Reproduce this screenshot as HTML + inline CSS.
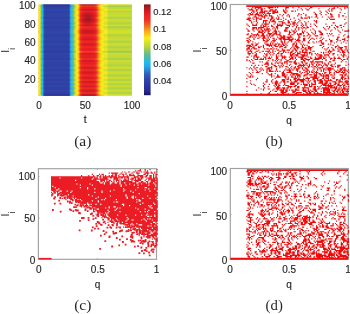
<!DOCTYPE html><html><head><meta charset="utf-8"><style>html,body{margin:0;padding:0;background:#fff;width:350px;height:314px;overflow:hidden}svg{display:block}</style></head><body><svg width="350" height="314" viewBox="0 0 350 314"><defs><filter id="sb" x="-2%" y="-2%" width="104%" height="104%"><feGaussianBlur stdDeviation="0.35"/></filter><filter id="jet" x="0" y="0" width="1" height="1" color-interpolation-filters="sRGB"><feComponentTransfer><feFuncR type="table" tableValues="0.0980 0.1164 0.1348 0.1532 0.1609 0.1661 0.1712 0.1763 0.1801 0.1840 0.1878 0.1916 0.1955 0.1909 0.1848 0.1787 0.1765 0.1765 0.1721 0.1659 0.1598 0.1489 0.1336 0.1183 0.1667 0.2177 0.2688 0.3192 0.3652 0.4112 0.4657 0.5270 0.5882 0.6495 0.7108 0.7619 0.8002 0.8385 0.8809 0.9238 0.9667 0.9908 0.9980 0.9929 0.9877 0.9826 0.9735 0.9613 0.9490 0.9396 0.9352 0.9308 0.9265 0.9221 0.9216 0.9216 0.9216 0.9196 0.8698 0.8200 0.7702 0.7204 0.6706 0.5915 0.5098"/><feFuncG type="table" tableValues="0.0784 0.1091 0.1397 0.1703 0.1846 0.1949 0.2051 0.2153 0.2304 0.2457 0.2610 0.2763 0.2917 0.3199 0.3505 0.3811 0.4314 0.4926 0.5451 0.5941 0.6431 0.6826 0.7132 0.7439 0.7402 0.7351 0.7300 0.7264 0.7341 0.7417 0.7565 0.7770 0.7974 0.8178 0.8346 0.8499 0.8652 0.8805 0.8985 0.9169 0.9353 0.8891 0.8227 0.7717 0.7206 0.6695 0.6093 0.5419 0.4745 0.4125 0.3599 0.3074 0.2549 0.2024 0.1781 0.1577 0.1373 0.1175 0.1137 0.1098 0.1060 0.1022 0.0983 0.0886 0.0784"/><feFuncB type="table" tableValues="0.3725 0.4277 0.4828 0.5380 0.5654 0.5858 0.6062 0.6266 0.6348 0.6425 0.6501 0.6578 0.6654 0.6873 0.7118 0.7363 0.7712 0.8121 0.8412 0.8657 0.8902 0.9059 0.9136 0.9213 0.8578 0.7915 0.7251 0.6593 0.5980 0.5368 0.4755 0.4142 0.3529 0.2917 0.2525 0.2218 0.1912 0.1605 0.1461 0.1338 0.1216 0.0968 0.0805 0.0856 0.0907 0.0958 0.1049 0.1172 0.1294 0.1373 0.1373 0.1373 0.1373 0.1373 0.1373 0.1373 0.1373 0.1373 0.1373 0.1373 0.1373 0.1373 0.1373 0.1185 0.0980"/><feFuncA type="identity"/></feComponentTransfer></filter><linearGradient id="h0" x1="0" y1="0" x2="1" y2="0"><stop offset="0.005" stop-color="rgb(179,179,179)"/><stop offset="0.015" stop-color="rgb(163,163,163)"/><stop offset="0.025" stop-color="rgb(138,138,138)"/><stop offset="0.035" stop-color="rgb(112,112,112)"/><stop offset="0.045" stop-color="rgb(94,94,94)"/><stop offset="0.055" stop-color="rgb(36,36,36)"/><stop offset="0.065" stop-color="rgb(12,12,12)"/><stop offset="0.075" stop-color="rgb(8,8,8)"/><stop offset="0.085" stop-color="rgb(8,8,8)"/><stop offset="0.095" stop-color="rgb(8,8,8)"/><stop offset="0.105" stop-color="rgb(8,8,8)"/><stop offset="0.115" stop-color="rgb(8,8,8)"/><stop offset="0.125" stop-color="rgb(8,8,8)"/><stop offset="0.135" stop-color="rgb(8,8,8)"/><stop offset="0.145" stop-color="rgb(8,8,8)"/><stop offset="0.155" stop-color="rgb(8,8,8)"/><stop offset="0.165" stop-color="rgb(8,8,8)"/><stop offset="0.175" stop-color="rgb(8,8,8)"/><stop offset="0.185" stop-color="rgb(8,8,8)"/><stop offset="0.195" stop-color="rgb(8,8,8)"/><stop offset="0.205" stop-color="rgb(8,8,8)"/><stop offset="0.215" stop-color="rgb(8,8,8)"/><stop offset="0.225" stop-color="rgb(8,8,8)"/><stop offset="0.235" stop-color="rgb(8,8,8)"/><stop offset="0.245" stop-color="rgb(8,8,8)"/><stop offset="0.255" stop-color="rgb(8,8,8)"/><stop offset="0.265" stop-color="rgb(8,8,8)"/><stop offset="0.275" stop-color="rgb(8,8,8)"/><stop offset="0.285" stop-color="rgb(8,8,8)"/><stop offset="0.295" stop-color="rgb(8,8,8)"/><stop offset="0.305" stop-color="rgb(8,8,8)"/><stop offset="0.315" stop-color="rgb(8,8,8)"/><stop offset="0.325" stop-color="rgb(8,8,8)"/><stop offset="0.335" stop-color="rgb(43,43,43)"/><stop offset="0.345" stop-color="rgb(94,94,94)"/><stop offset="0.355" stop-color="rgb(105,105,105)"/><stop offset="0.365" stop-color="rgb(117,117,117)"/><stop offset="0.375" stop-color="rgb(130,130,130)"/><stop offset="0.385" stop-color="rgb(143,143,143)"/><stop offset="0.395" stop-color="rgb(156,156,156)"/><stop offset="0.405" stop-color="rgb(168,168,168)"/><stop offset="0.415" stop-color="rgb(173,173,173)"/><stop offset="0.425" stop-color="rgb(181,181,181)"/><stop offset="0.435" stop-color="rgb(196,196,196)"/><stop offset="0.445" stop-color="rgb(214,214,214)"/><stop offset="0.455" stop-color="rgb(246,246,246)"/><stop offset="0.465" stop-color="rgb(253,253,253)"/><stop offset="0.475" stop-color="rgb(255,255,255)"/><stop offset="0.485" stop-color="rgb(255,255,255)"/><stop offset="0.495" stop-color="rgb(255,255,255)"/><stop offset="0.505" stop-color="rgb(255,255,255)"/><stop offset="0.515" stop-color="rgb(255,255,255)"/><stop offset="0.525" stop-color="rgb(255,255,255)"/><stop offset="0.535" stop-color="rgb(255,255,255)"/><stop offset="0.545" stop-color="rgb(255,255,255)"/><stop offset="0.555" stop-color="rgb(255,255,255)"/><stop offset="0.565" stop-color="rgb(255,255,255)"/><stop offset="0.575" stop-color="rgb(255,255,255)"/><stop offset="0.585" stop-color="rgb(255,255,255)"/><stop offset="0.595" stop-color="rgb(255,255,255)"/><stop offset="0.605" stop-color="rgb(253,253,253)"/><stop offset="0.615" stop-color="rgb(243,243,243)"/><stop offset="0.625" stop-color="rgb(214,214,214)"/><stop offset="0.635" stop-color="rgb(204,204,204)"/><stop offset="0.645" stop-color="rgb(194,194,194)"/><stop offset="0.655" stop-color="rgb(186,186,186)"/><stop offset="0.665" stop-color="rgb(179,179,179)"/><stop offset="0.675" stop-color="rgb(172,172,172)"/><stop offset="0.685" stop-color="rgb(171,171,171)"/><stop offset="0.695" stop-color="rgb(170,170,170)"/><stop offset="0.705" stop-color="rgb(163,163,163)"/><stop offset="0.715" stop-color="rgb(163,163,163)"/><stop offset="0.725" stop-color="rgb(163,163,163)"/><stop offset="0.735" stop-color="rgb(163,163,163)"/><stop offset="0.745" stop-color="rgb(150,150,150)"/><stop offset="0.755" stop-color="rgb(150,150,150)"/><stop offset="0.765" stop-color="rgb(150,150,150)"/><stop offset="0.775" stop-color="rgb(150,150,150)"/><stop offset="0.785" stop-color="rgb(150,150,150)"/><stop offset="0.795" stop-color="rgb(150,150,150)"/><stop offset="0.805" stop-color="rgb(150,150,150)"/><stop offset="0.815" stop-color="rgb(150,150,150)"/><stop offset="0.825" stop-color="rgb(150,150,150)"/><stop offset="0.835" stop-color="rgb(150,150,150)"/><stop offset="0.845" stop-color="rgb(150,150,150)"/><stop offset="0.855" stop-color="rgb(150,150,150)"/><stop offset="0.865" stop-color="rgb(150,150,150)"/><stop offset="0.875" stop-color="rgb(150,150,150)"/><stop offset="0.885" stop-color="rgb(150,150,150)"/><stop offset="0.895" stop-color="rgb(150,150,150)"/><stop offset="0.905" stop-color="rgb(150,150,150)"/><stop offset="0.915" stop-color="rgb(150,150,150)"/><stop offset="0.925" stop-color="rgb(150,150,150)"/><stop offset="0.935" stop-color="rgb(150,150,150)"/><stop offset="0.945" stop-color="rgb(150,150,150)"/><stop offset="0.955" stop-color="rgb(150,150,150)"/><stop offset="0.965" stop-color="rgb(150,150,150)"/><stop offset="0.975" stop-color="rgb(150,150,150)"/><stop offset="0.985" stop-color="rgb(150,150,150)"/><stop offset="0.995" stop-color="rgb(150,150,150)"/></linearGradient><linearGradient id="h1" x1="0" y1="0" x2="1" y2="0"><stop offset="0.005" stop-color="rgb(158,158,158)"/><stop offset="0.015" stop-color="rgb(143,143,143)"/><stop offset="0.025" stop-color="rgb(117,117,117)"/><stop offset="0.035" stop-color="rgb(92,92,92)"/><stop offset="0.045" stop-color="rgb(74,74,74)"/><stop offset="0.055" stop-color="rgb(55,55,55)"/><stop offset="0.065" stop-color="rgb(38,38,38)"/><stop offset="0.075" stop-color="rgb(35,35,35)"/><stop offset="0.085" stop-color="rgb(35,35,35)"/><stop offset="0.095" stop-color="rgb(35,35,35)"/><stop offset="0.105" stop-color="rgb(35,35,35)"/><stop offset="0.115" stop-color="rgb(35,35,35)"/><stop offset="0.125" stop-color="rgb(35,35,35)"/><stop offset="0.135" stop-color="rgb(35,35,35)"/><stop offset="0.145" stop-color="rgb(35,35,35)"/><stop offset="0.155" stop-color="rgb(35,35,35)"/><stop offset="0.165" stop-color="rgb(35,35,35)"/><stop offset="0.175" stop-color="rgb(35,35,35)"/><stop offset="0.185" stop-color="rgb(35,35,35)"/><stop offset="0.195" stop-color="rgb(35,35,35)"/><stop offset="0.205" stop-color="rgb(35,35,35)"/><stop offset="0.215" stop-color="rgb(35,35,35)"/><stop offset="0.225" stop-color="rgb(35,35,35)"/><stop offset="0.235" stop-color="rgb(35,35,35)"/><stop offset="0.245" stop-color="rgb(35,35,35)"/><stop offset="0.255" stop-color="rgb(35,35,35)"/><stop offset="0.265" stop-color="rgb(35,35,35)"/><stop offset="0.275" stop-color="rgb(35,35,35)"/><stop offset="0.285" stop-color="rgb(35,35,35)"/><stop offset="0.295" stop-color="rgb(35,35,35)"/><stop offset="0.305" stop-color="rgb(35,35,35)"/><stop offset="0.315" stop-color="rgb(35,35,35)"/><stop offset="0.325" stop-color="rgb(35,35,35)"/><stop offset="0.335" stop-color="rgb(61,61,61)"/><stop offset="0.345" stop-color="rgb(74,74,74)"/><stop offset="0.355" stop-color="rgb(84,84,84)"/><stop offset="0.365" stop-color="rgb(97,97,97)"/><stop offset="0.375" stop-color="rgb(110,110,110)"/><stop offset="0.385" stop-color="rgb(122,122,122)"/><stop offset="0.395" stop-color="rgb(135,135,135)"/><stop offset="0.405" stop-color="rgb(148,148,148)"/><stop offset="0.415" stop-color="rgb(153,153,153)"/><stop offset="0.425" stop-color="rgb(161,161,161)"/><stop offset="0.435" stop-color="rgb(176,176,176)"/><stop offset="0.445" stop-color="rgb(194,194,194)"/><stop offset="0.455" stop-color="rgb(200,200,200)"/><stop offset="0.465" stop-color="rgb(205,205,205)"/><stop offset="0.475" stop-color="rgb(208,208,208)"/><stop offset="0.485" stop-color="rgb(210,210,210)"/><stop offset="0.495" stop-color="rgb(212,212,212)"/><stop offset="0.505" stop-color="rgb(212,212,212)"/><stop offset="0.515" stop-color="rgb(212,212,212)"/><stop offset="0.525" stop-color="rgb(212,212,212)"/><stop offset="0.535" stop-color="rgb(212,212,212)"/><stop offset="0.545" stop-color="rgb(212,212,212)"/><stop offset="0.555" stop-color="rgb(212,212,212)"/><stop offset="0.565" stop-color="rgb(212,212,212)"/><stop offset="0.575" stop-color="rgb(210,210,210)"/><stop offset="0.585" stop-color="rgb(209,209,209)"/><stop offset="0.595" stop-color="rgb(208,208,208)"/><stop offset="0.605" stop-color="rgb(205,205,205)"/><stop offset="0.615" stop-color="rgb(198,198,198)"/><stop offset="0.625" stop-color="rgb(194,194,194)"/><stop offset="0.635" stop-color="rgb(184,184,184)"/><stop offset="0.645" stop-color="rgb(173,173,173)"/><stop offset="0.655" stop-color="rgb(166,166,166)"/><stop offset="0.665" stop-color="rgb(158,158,158)"/><stop offset="0.675" stop-color="rgb(152,152,152)"/><stop offset="0.685" stop-color="rgb(150,150,150)"/><stop offset="0.695" stop-color="rgb(149,149,149)"/><stop offset="0.705" stop-color="rgb(143,143,143)"/><stop offset="0.715" stop-color="rgb(143,143,143)"/><stop offset="0.725" stop-color="rgb(143,143,143)"/><stop offset="0.735" stop-color="rgb(143,143,143)"/><stop offset="0.745" stop-color="rgb(130,130,130)"/><stop offset="0.755" stop-color="rgb(130,130,130)"/><stop offset="0.765" stop-color="rgb(130,130,130)"/><stop offset="0.775" stop-color="rgb(130,130,130)"/><stop offset="0.785" stop-color="rgb(130,130,130)"/><stop offset="0.795" stop-color="rgb(130,130,130)"/><stop offset="0.805" stop-color="rgb(130,130,130)"/><stop offset="0.815" stop-color="rgb(130,130,130)"/><stop offset="0.825" stop-color="rgb(130,130,130)"/><stop offset="0.835" stop-color="rgb(130,130,130)"/><stop offset="0.845" stop-color="rgb(130,130,130)"/><stop offset="0.855" stop-color="rgb(130,130,130)"/><stop offset="0.865" stop-color="rgb(130,130,130)"/><stop offset="0.875" stop-color="rgb(130,130,130)"/><stop offset="0.885" stop-color="rgb(130,130,130)"/><stop offset="0.895" stop-color="rgb(130,130,130)"/><stop offset="0.905" stop-color="rgb(130,130,130)"/><stop offset="0.915" stop-color="rgb(130,130,130)"/><stop offset="0.925" stop-color="rgb(130,130,130)"/><stop offset="0.935" stop-color="rgb(130,130,130)"/><stop offset="0.945" stop-color="rgb(130,130,130)"/><stop offset="0.955" stop-color="rgb(130,130,130)"/><stop offset="0.965" stop-color="rgb(130,130,130)"/><stop offset="0.975" stop-color="rgb(130,130,130)"/><stop offset="0.985" stop-color="rgb(130,130,130)"/><stop offset="0.995" stop-color="rgb(130,130,130)"/></linearGradient><linearGradient id="h2" x1="0" y1="0" x2="1" y2="0"><stop offset="0.005" stop-color="rgb(168,168,168)"/><stop offset="0.015" stop-color="rgb(153,153,153)"/><stop offset="0.025" stop-color="rgb(128,128,128)"/><stop offset="0.035" stop-color="rgb(102,102,102)"/><stop offset="0.045" stop-color="rgb(84,84,84)"/><stop offset="0.055" stop-color="rgb(61,61,61)"/><stop offset="0.065" stop-color="rgb(43,43,43)"/><stop offset="0.075" stop-color="rgb(40,40,40)"/><stop offset="0.085" stop-color="rgb(40,40,40)"/><stop offset="0.095" stop-color="rgb(40,40,40)"/><stop offset="0.105" stop-color="rgb(40,40,40)"/><stop offset="0.115" stop-color="rgb(40,40,40)"/><stop offset="0.125" stop-color="rgb(40,40,40)"/><stop offset="0.135" stop-color="rgb(40,40,40)"/><stop offset="0.145" stop-color="rgb(40,40,40)"/><stop offset="0.155" stop-color="rgb(40,40,40)"/><stop offset="0.165" stop-color="rgb(40,40,40)"/><stop offset="0.175" stop-color="rgb(40,40,40)"/><stop offset="0.185" stop-color="rgb(40,40,40)"/><stop offset="0.195" stop-color="rgb(40,40,40)"/><stop offset="0.205" stop-color="rgb(40,40,40)"/><stop offset="0.215" stop-color="rgb(40,40,40)"/><stop offset="0.225" stop-color="rgb(40,40,40)"/><stop offset="0.235" stop-color="rgb(40,40,40)"/><stop offset="0.245" stop-color="rgb(40,40,40)"/><stop offset="0.255" stop-color="rgb(40,40,40)"/><stop offset="0.265" stop-color="rgb(40,40,40)"/><stop offset="0.275" stop-color="rgb(40,40,40)"/><stop offset="0.285" stop-color="rgb(40,40,40)"/><stop offset="0.295" stop-color="rgb(40,40,40)"/><stop offset="0.305" stop-color="rgb(40,40,40)"/><stop offset="0.315" stop-color="rgb(40,40,40)"/><stop offset="0.325" stop-color="rgb(40,40,40)"/><stop offset="0.335" stop-color="rgb(66,66,66)"/><stop offset="0.345" stop-color="rgb(84,84,84)"/><stop offset="0.355" stop-color="rgb(94,94,94)"/><stop offset="0.365" stop-color="rgb(107,107,107)"/><stop offset="0.375" stop-color="rgb(120,120,120)"/><stop offset="0.385" stop-color="rgb(133,133,133)"/><stop offset="0.395" stop-color="rgb(145,145,145)"/><stop offset="0.405" stop-color="rgb(158,158,158)"/><stop offset="0.415" stop-color="rgb(163,163,163)"/><stop offset="0.425" stop-color="rgb(171,171,171)"/><stop offset="0.435" stop-color="rgb(186,186,186)"/><stop offset="0.445" stop-color="rgb(204,204,204)"/><stop offset="0.455" stop-color="rgb(217,217,217)"/><stop offset="0.465" stop-color="rgb(222,222,222)"/><stop offset="0.475" stop-color="rgb(224,224,224)"/><stop offset="0.485" stop-color="rgb(227,227,227)"/><stop offset="0.495" stop-color="rgb(228,228,228)"/><stop offset="0.505" stop-color="rgb(228,228,228)"/><stop offset="0.515" stop-color="rgb(228,228,228)"/><stop offset="0.525" stop-color="rgb(228,228,228)"/><stop offset="0.535" stop-color="rgb(228,228,228)"/><stop offset="0.545" stop-color="rgb(228,228,228)"/><stop offset="0.555" stop-color="rgb(228,228,228)"/><stop offset="0.565" stop-color="rgb(228,228,228)"/><stop offset="0.575" stop-color="rgb(227,227,227)"/><stop offset="0.585" stop-color="rgb(226,226,226)"/><stop offset="0.595" stop-color="rgb(224,224,224)"/><stop offset="0.605" stop-color="rgb(222,222,222)"/><stop offset="0.615" stop-color="rgb(214,214,214)"/><stop offset="0.625" stop-color="rgb(204,204,204)"/><stop offset="0.635" stop-color="rgb(194,194,194)"/><stop offset="0.645" stop-color="rgb(184,184,184)"/><stop offset="0.655" stop-color="rgb(176,176,176)"/><stop offset="0.665" stop-color="rgb(168,168,168)"/><stop offset="0.675" stop-color="rgb(162,162,162)"/><stop offset="0.685" stop-color="rgb(161,161,161)"/><stop offset="0.695" stop-color="rgb(159,159,159)"/><stop offset="0.705" stop-color="rgb(153,153,153)"/><stop offset="0.715" stop-color="rgb(153,153,153)"/><stop offset="0.725" stop-color="rgb(153,153,153)"/><stop offset="0.735" stop-color="rgb(153,153,153)"/><stop offset="0.745" stop-color="rgb(140,140,140)"/><stop offset="0.755" stop-color="rgb(140,140,140)"/><stop offset="0.765" stop-color="rgb(140,140,140)"/><stop offset="0.775" stop-color="rgb(140,140,140)"/><stop offset="0.785" stop-color="rgb(140,140,140)"/><stop offset="0.795" stop-color="rgb(140,140,140)"/><stop offset="0.805" stop-color="rgb(140,140,140)"/><stop offset="0.815" stop-color="rgb(140,140,140)"/><stop offset="0.825" stop-color="rgb(140,140,140)"/><stop offset="0.835" stop-color="rgb(140,140,140)"/><stop offset="0.845" stop-color="rgb(140,140,140)"/><stop offset="0.855" stop-color="rgb(140,140,140)"/><stop offset="0.865" stop-color="rgb(140,140,140)"/><stop offset="0.875" stop-color="rgb(140,140,140)"/><stop offset="0.885" stop-color="rgb(140,140,140)"/><stop offset="0.895" stop-color="rgb(140,140,140)"/><stop offset="0.905" stop-color="rgb(140,140,140)"/><stop offset="0.915" stop-color="rgb(140,140,140)"/><stop offset="0.925" stop-color="rgb(140,140,140)"/><stop offset="0.935" stop-color="rgb(140,140,140)"/><stop offset="0.945" stop-color="rgb(140,140,140)"/><stop offset="0.955" stop-color="rgb(140,140,140)"/><stop offset="0.965" stop-color="rgb(140,140,140)"/><stop offset="0.975" stop-color="rgb(140,140,140)"/><stop offset="0.985" stop-color="rgb(140,140,140)"/><stop offset="0.995" stop-color="rgb(140,140,140)"/></linearGradient><linearGradient id="h3" x1="0" y1="0" x2="1" y2="0"><stop offset="0.005" stop-color="rgb(174,174,174)"/><stop offset="0.015" stop-color="rgb(159,159,159)"/><stop offset="0.025" stop-color="rgb(134,134,134)"/><stop offset="0.035" stop-color="rgb(108,108,108)"/><stop offset="0.045" stop-color="rgb(90,90,90)"/><stop offset="0.055" stop-color="rgb(65,65,65)"/><stop offset="0.065" stop-color="rgb(47,47,47)"/><stop offset="0.075" stop-color="rgb(44,44,44)"/><stop offset="0.085" stop-color="rgb(44,44,44)"/><stop offset="0.095" stop-color="rgb(44,44,44)"/><stop offset="0.105" stop-color="rgb(44,44,44)"/><stop offset="0.115" stop-color="rgb(44,44,44)"/><stop offset="0.125" stop-color="rgb(44,44,44)"/><stop offset="0.135" stop-color="rgb(44,44,44)"/><stop offset="0.145" stop-color="rgb(44,44,44)"/><stop offset="0.155" stop-color="rgb(44,44,44)"/><stop offset="0.165" stop-color="rgb(44,44,44)"/><stop offset="0.175" stop-color="rgb(44,44,44)"/><stop offset="0.185" stop-color="rgb(44,44,44)"/><stop offset="0.195" stop-color="rgb(44,44,44)"/><stop offset="0.205" stop-color="rgb(44,44,44)"/><stop offset="0.215" stop-color="rgb(44,44,44)"/><stop offset="0.225" stop-color="rgb(44,44,44)"/><stop offset="0.235" stop-color="rgb(44,44,44)"/><stop offset="0.245" stop-color="rgb(44,44,44)"/><stop offset="0.255" stop-color="rgb(44,44,44)"/><stop offset="0.265" stop-color="rgb(44,44,44)"/><stop offset="0.275" stop-color="rgb(44,44,44)"/><stop offset="0.285" stop-color="rgb(44,44,44)"/><stop offset="0.295" stop-color="rgb(44,44,44)"/><stop offset="0.305" stop-color="rgb(44,44,44)"/><stop offset="0.315" stop-color="rgb(44,44,44)"/><stop offset="0.325" stop-color="rgb(44,44,44)"/><stop offset="0.335" stop-color="rgb(70,70,70)"/><stop offset="0.345" stop-color="rgb(90,90,90)"/><stop offset="0.355" stop-color="rgb(100,100,100)"/><stop offset="0.365" stop-color="rgb(113,113,113)"/><stop offset="0.375" stop-color="rgb(126,126,126)"/><stop offset="0.385" stop-color="rgb(139,139,139)"/><stop offset="0.395" stop-color="rgb(151,151,151)"/><stop offset="0.405" stop-color="rgb(164,164,164)"/><stop offset="0.415" stop-color="rgb(169,169,169)"/><stop offset="0.425" stop-color="rgb(177,177,177)"/><stop offset="0.435" stop-color="rgb(192,192,192)"/><stop offset="0.445" stop-color="rgb(210,210,210)"/><stop offset="0.455" stop-color="rgb(227,227,227)"/><stop offset="0.465" stop-color="rgb(232,232,232)"/><stop offset="0.475" stop-color="rgb(234,234,234)"/><stop offset="0.485" stop-color="rgb(237,237,237)"/><stop offset="0.495" stop-color="rgb(238,238,238)"/><stop offset="0.505" stop-color="rgb(238,238,238)"/><stop offset="0.515" stop-color="rgb(238,238,238)"/><stop offset="0.525" stop-color="rgb(238,238,238)"/><stop offset="0.535" stop-color="rgb(238,238,238)"/><stop offset="0.545" stop-color="rgb(238,238,238)"/><stop offset="0.555" stop-color="rgb(238,238,238)"/><stop offset="0.565" stop-color="rgb(238,238,238)"/><stop offset="0.575" stop-color="rgb(237,237,237)"/><stop offset="0.585" stop-color="rgb(236,236,236)"/><stop offset="0.595" stop-color="rgb(234,234,234)"/><stop offset="0.605" stop-color="rgb(232,232,232)"/><stop offset="0.615" stop-color="rgb(224,224,224)"/><stop offset="0.625" stop-color="rgb(210,210,210)"/><stop offset="0.635" stop-color="rgb(200,200,200)"/><stop offset="0.645" stop-color="rgb(190,190,190)"/><stop offset="0.655" stop-color="rgb(182,182,182)"/><stop offset="0.665" stop-color="rgb(174,174,174)"/><stop offset="0.675" stop-color="rgb(168,168,168)"/><stop offset="0.685" stop-color="rgb(167,167,167)"/><stop offset="0.695" stop-color="rgb(165,165,165)"/><stop offset="0.705" stop-color="rgb(159,159,159)"/><stop offset="0.715" stop-color="rgb(159,159,159)"/><stop offset="0.725" stop-color="rgb(159,159,159)"/><stop offset="0.735" stop-color="rgb(159,159,159)"/><stop offset="0.745" stop-color="rgb(146,146,146)"/><stop offset="0.755" stop-color="rgb(146,146,146)"/><stop offset="0.765" stop-color="rgb(146,146,146)"/><stop offset="0.775" stop-color="rgb(146,146,146)"/><stop offset="0.785" stop-color="rgb(146,146,146)"/><stop offset="0.795" stop-color="rgb(146,146,146)"/><stop offset="0.805" stop-color="rgb(146,146,146)"/><stop offset="0.815" stop-color="rgb(146,146,146)"/><stop offset="0.825" stop-color="rgb(146,146,146)"/><stop offset="0.835" stop-color="rgb(146,146,146)"/><stop offset="0.845" stop-color="rgb(146,146,146)"/><stop offset="0.855" stop-color="rgb(146,146,146)"/><stop offset="0.865" stop-color="rgb(146,146,146)"/><stop offset="0.875" stop-color="rgb(146,146,146)"/><stop offset="0.885" stop-color="rgb(146,146,146)"/><stop offset="0.895" stop-color="rgb(146,146,146)"/><stop offset="0.905" stop-color="rgb(146,146,146)"/><stop offset="0.915" stop-color="rgb(146,146,146)"/><stop offset="0.925" stop-color="rgb(146,146,146)"/><stop offset="0.935" stop-color="rgb(146,146,146)"/><stop offset="0.945" stop-color="rgb(146,146,146)"/><stop offset="0.955" stop-color="rgb(146,146,146)"/><stop offset="0.965" stop-color="rgb(146,146,146)"/><stop offset="0.975" stop-color="rgb(146,146,146)"/><stop offset="0.985" stop-color="rgb(146,146,146)"/><stop offset="0.995" stop-color="rgb(146,146,146)"/></linearGradient><linearGradient id="h4" x1="0" y1="0" x2="1" y2="0"><stop offset="0.005" stop-color="rgb(162,162,162)"/><stop offset="0.015" stop-color="rgb(147,147,147)"/><stop offset="0.025" stop-color="rgb(121,121,121)"/><stop offset="0.035" stop-color="rgb(96,96,96)"/><stop offset="0.045" stop-color="rgb(78,78,78)"/><stop offset="0.055" stop-color="rgb(58,58,58)"/><stop offset="0.065" stop-color="rgb(40,40,40)"/><stop offset="0.075" stop-color="rgb(37,37,37)"/><stop offset="0.085" stop-color="rgb(37,37,37)"/><stop offset="0.095" stop-color="rgb(37,37,37)"/><stop offset="0.105" stop-color="rgb(37,37,37)"/><stop offset="0.115" stop-color="rgb(37,37,37)"/><stop offset="0.125" stop-color="rgb(37,37,37)"/><stop offset="0.135" stop-color="rgb(37,37,37)"/><stop offset="0.145" stop-color="rgb(37,37,37)"/><stop offset="0.155" stop-color="rgb(37,37,37)"/><stop offset="0.165" stop-color="rgb(37,37,37)"/><stop offset="0.175" stop-color="rgb(37,37,37)"/><stop offset="0.185" stop-color="rgb(37,37,37)"/><stop offset="0.195" stop-color="rgb(37,37,37)"/><stop offset="0.205" stop-color="rgb(37,37,37)"/><stop offset="0.215" stop-color="rgb(37,37,37)"/><stop offset="0.225" stop-color="rgb(37,37,37)"/><stop offset="0.235" stop-color="rgb(37,37,37)"/><stop offset="0.245" stop-color="rgb(37,37,37)"/><stop offset="0.255" stop-color="rgb(37,37,37)"/><stop offset="0.265" stop-color="rgb(37,37,37)"/><stop offset="0.275" stop-color="rgb(37,37,37)"/><stop offset="0.285" stop-color="rgb(37,37,37)"/><stop offset="0.295" stop-color="rgb(37,37,37)"/><stop offset="0.305" stop-color="rgb(37,37,37)"/><stop offset="0.315" stop-color="rgb(37,37,37)"/><stop offset="0.325" stop-color="rgb(37,37,37)"/><stop offset="0.335" stop-color="rgb(63,63,63)"/><stop offset="0.345" stop-color="rgb(78,78,78)"/><stop offset="0.355" stop-color="rgb(88,88,88)"/><stop offset="0.365" stop-color="rgb(101,101,101)"/><stop offset="0.375" stop-color="rgb(114,114,114)"/><stop offset="0.385" stop-color="rgb(126,126,126)"/><stop offset="0.395" stop-color="rgb(139,139,139)"/><stop offset="0.405" stop-color="rgb(152,152,152)"/><stop offset="0.415" stop-color="rgb(157,157,157)"/><stop offset="0.425" stop-color="rgb(165,165,165)"/><stop offset="0.435" stop-color="rgb(180,180,180)"/><stop offset="0.445" stop-color="rgb(198,198,198)"/><stop offset="0.455" stop-color="rgb(207,207,207)"/><stop offset="0.465" stop-color="rgb(212,212,212)"/><stop offset="0.475" stop-color="rgb(214,214,214)"/><stop offset="0.485" stop-color="rgb(217,217,217)"/><stop offset="0.495" stop-color="rgb(218,218,218)"/><stop offset="0.505" stop-color="rgb(218,218,218)"/><stop offset="0.515" stop-color="rgb(218,218,218)"/><stop offset="0.525" stop-color="rgb(218,218,218)"/><stop offset="0.535" stop-color="rgb(218,218,218)"/><stop offset="0.545" stop-color="rgb(218,218,218)"/><stop offset="0.555" stop-color="rgb(218,218,218)"/><stop offset="0.565" stop-color="rgb(218,218,218)"/><stop offset="0.575" stop-color="rgb(217,217,217)"/><stop offset="0.585" stop-color="rgb(216,216,216)"/><stop offset="0.595" stop-color="rgb(214,214,214)"/><stop offset="0.605" stop-color="rgb(212,212,212)"/><stop offset="0.615" stop-color="rgb(204,204,204)"/><stop offset="0.625" stop-color="rgb(198,198,198)"/><stop offset="0.635" stop-color="rgb(188,188,188)"/><stop offset="0.645" stop-color="rgb(177,177,177)"/><stop offset="0.655" stop-color="rgb(170,170,170)"/><stop offset="0.665" stop-color="rgb(162,162,162)"/><stop offset="0.675" stop-color="rgb(156,156,156)"/><stop offset="0.685" stop-color="rgb(155,155,155)"/><stop offset="0.695" stop-color="rgb(153,153,153)"/><stop offset="0.705" stop-color="rgb(147,147,147)"/><stop offset="0.715" stop-color="rgb(147,147,147)"/><stop offset="0.725" stop-color="rgb(147,147,147)"/><stop offset="0.735" stop-color="rgb(147,147,147)"/><stop offset="0.745" stop-color="rgb(134,134,134)"/><stop offset="0.755" stop-color="rgb(134,134,134)"/><stop offset="0.765" stop-color="rgb(134,134,134)"/><stop offset="0.775" stop-color="rgb(134,134,134)"/><stop offset="0.785" stop-color="rgb(134,134,134)"/><stop offset="0.795" stop-color="rgb(134,134,134)"/><stop offset="0.805" stop-color="rgb(134,134,134)"/><stop offset="0.815" stop-color="rgb(134,134,134)"/><stop offset="0.825" stop-color="rgb(134,134,134)"/><stop offset="0.835" stop-color="rgb(134,134,134)"/><stop offset="0.845" stop-color="rgb(134,134,134)"/><stop offset="0.855" stop-color="rgb(134,134,134)"/><stop offset="0.865" stop-color="rgb(134,134,134)"/><stop offset="0.875" stop-color="rgb(134,134,134)"/><stop offset="0.885" stop-color="rgb(134,134,134)"/><stop offset="0.895" stop-color="rgb(134,134,134)"/><stop offset="0.905" stop-color="rgb(134,134,134)"/><stop offset="0.915" stop-color="rgb(134,134,134)"/><stop offset="0.925" stop-color="rgb(134,134,134)"/><stop offset="0.935" stop-color="rgb(134,134,134)"/><stop offset="0.945" stop-color="rgb(134,134,134)"/><stop offset="0.955" stop-color="rgb(134,134,134)"/><stop offset="0.965" stop-color="rgb(134,134,134)"/><stop offset="0.975" stop-color="rgb(134,134,134)"/><stop offset="0.985" stop-color="rgb(134,134,134)"/><stop offset="0.995" stop-color="rgb(134,134,134)"/></linearGradient><linearGradient id="h5" x1="0" y1="0" x2="1" y2="0"><stop offset="0.005" stop-color="rgb(172,172,172)"/><stop offset="0.015" stop-color="rgb(157,157,157)"/><stop offset="0.025" stop-color="rgb(132,132,132)"/><stop offset="0.035" stop-color="rgb(106,106,106)"/><stop offset="0.045" stop-color="rgb(88,88,88)"/><stop offset="0.055" stop-color="rgb(63,63,63)"/><stop offset="0.065" stop-color="rgb(46,46,46)"/><stop offset="0.075" stop-color="rgb(43,43,43)"/><stop offset="0.085" stop-color="rgb(43,43,43)"/><stop offset="0.095" stop-color="rgb(43,43,43)"/><stop offset="0.105" stop-color="rgb(43,43,43)"/><stop offset="0.115" stop-color="rgb(43,43,43)"/><stop offset="0.125" stop-color="rgb(43,43,43)"/><stop offset="0.135" stop-color="rgb(43,43,43)"/><stop offset="0.145" stop-color="rgb(43,43,43)"/><stop offset="0.155" stop-color="rgb(43,43,43)"/><stop offset="0.165" stop-color="rgb(43,43,43)"/><stop offset="0.175" stop-color="rgb(43,43,43)"/><stop offset="0.185" stop-color="rgb(43,43,43)"/><stop offset="0.195" stop-color="rgb(43,43,43)"/><stop offset="0.205" stop-color="rgb(43,43,43)"/><stop offset="0.215" stop-color="rgb(43,43,43)"/><stop offset="0.225" stop-color="rgb(43,43,43)"/><stop offset="0.235" stop-color="rgb(43,43,43)"/><stop offset="0.245" stop-color="rgb(43,43,43)"/><stop offset="0.255" stop-color="rgb(43,43,43)"/><stop offset="0.265" stop-color="rgb(43,43,43)"/><stop offset="0.275" stop-color="rgb(43,43,43)"/><stop offset="0.285" stop-color="rgb(43,43,43)"/><stop offset="0.295" stop-color="rgb(43,43,43)"/><stop offset="0.305" stop-color="rgb(43,43,43)"/><stop offset="0.315" stop-color="rgb(43,43,43)"/><stop offset="0.325" stop-color="rgb(43,43,43)"/><stop offset="0.335" stop-color="rgb(69,69,69)"/><stop offset="0.345" stop-color="rgb(88,88,88)"/><stop offset="0.355" stop-color="rgb(98,98,98)"/><stop offset="0.365" stop-color="rgb(111,111,111)"/><stop offset="0.375" stop-color="rgb(124,124,124)"/><stop offset="0.385" stop-color="rgb(137,137,137)"/><stop offset="0.395" stop-color="rgb(149,149,149)"/><stop offset="0.405" stop-color="rgb(162,162,162)"/><stop offset="0.415" stop-color="rgb(167,167,167)"/><stop offset="0.425" stop-color="rgb(175,175,175)"/><stop offset="0.435" stop-color="rgb(190,190,190)"/><stop offset="0.445" stop-color="rgb(208,208,208)"/><stop offset="0.455" stop-color="rgb(223,223,223)"/><stop offset="0.465" stop-color="rgb(228,228,228)"/><stop offset="0.475" stop-color="rgb(231,231,231)"/><stop offset="0.485" stop-color="rgb(234,234,234)"/><stop offset="0.495" stop-color="rgb(235,235,235)"/><stop offset="0.505" stop-color="rgb(235,235,235)"/><stop offset="0.515" stop-color="rgb(235,235,235)"/><stop offset="0.525" stop-color="rgb(235,235,235)"/><stop offset="0.535" stop-color="rgb(235,235,235)"/><stop offset="0.545" stop-color="rgb(235,235,235)"/><stop offset="0.555" stop-color="rgb(235,235,235)"/><stop offset="0.565" stop-color="rgb(235,235,235)"/><stop offset="0.575" stop-color="rgb(234,234,234)"/><stop offset="0.585" stop-color="rgb(232,232,232)"/><stop offset="0.595" stop-color="rgb(231,231,231)"/><stop offset="0.605" stop-color="rgb(228,228,228)"/><stop offset="0.615" stop-color="rgb(221,221,221)"/><stop offset="0.625" stop-color="rgb(208,208,208)"/><stop offset="0.635" stop-color="rgb(198,198,198)"/><stop offset="0.645" stop-color="rgb(188,188,188)"/><stop offset="0.655" stop-color="rgb(180,180,180)"/><stop offset="0.665" stop-color="rgb(172,172,172)"/><stop offset="0.675" stop-color="rgb(166,166,166)"/><stop offset="0.685" stop-color="rgb(165,165,165)"/><stop offset="0.695" stop-color="rgb(163,163,163)"/><stop offset="0.705" stop-color="rgb(157,157,157)"/><stop offset="0.715" stop-color="rgb(157,157,157)"/><stop offset="0.725" stop-color="rgb(157,157,157)"/><stop offset="0.735" stop-color="rgb(157,157,157)"/><stop offset="0.745" stop-color="rgb(144,144,144)"/><stop offset="0.755" stop-color="rgb(144,144,144)"/><stop offset="0.765" stop-color="rgb(144,144,144)"/><stop offset="0.775" stop-color="rgb(144,144,144)"/><stop offset="0.785" stop-color="rgb(144,144,144)"/><stop offset="0.795" stop-color="rgb(144,144,144)"/><stop offset="0.805" stop-color="rgb(144,144,144)"/><stop offset="0.815" stop-color="rgb(144,144,144)"/><stop offset="0.825" stop-color="rgb(144,144,144)"/><stop offset="0.835" stop-color="rgb(144,144,144)"/><stop offset="0.845" stop-color="rgb(144,144,144)"/><stop offset="0.855" stop-color="rgb(144,144,144)"/><stop offset="0.865" stop-color="rgb(144,144,144)"/><stop offset="0.875" stop-color="rgb(144,144,144)"/><stop offset="0.885" stop-color="rgb(144,144,144)"/><stop offset="0.895" stop-color="rgb(144,144,144)"/><stop offset="0.905" stop-color="rgb(144,144,144)"/><stop offset="0.915" stop-color="rgb(144,144,144)"/><stop offset="0.925" stop-color="rgb(144,144,144)"/><stop offset="0.935" stop-color="rgb(144,144,144)"/><stop offset="0.945" stop-color="rgb(144,144,144)"/><stop offset="0.955" stop-color="rgb(144,144,144)"/><stop offset="0.965" stop-color="rgb(144,144,144)"/><stop offset="0.975" stop-color="rgb(144,144,144)"/><stop offset="0.985" stop-color="rgb(144,144,144)"/><stop offset="0.995" stop-color="rgb(144,144,144)"/></linearGradient><linearGradient id="h6" x1="0" y1="0" x2="1" y2="0"><stop offset="0.005" stop-color="rgb(160,160,160)"/><stop offset="0.015" stop-color="rgb(145,145,145)"/><stop offset="0.025" stop-color="rgb(119,119,119)"/><stop offset="0.035" stop-color="rgb(94,94,94)"/><stop offset="0.045" stop-color="rgb(76,76,76)"/><stop offset="0.055" stop-color="rgb(57,57,57)"/><stop offset="0.065" stop-color="rgb(39,39,39)"/><stop offset="0.075" stop-color="rgb(36,36,36)"/><stop offset="0.085" stop-color="rgb(36,36,36)"/><stop offset="0.095" stop-color="rgb(36,36,36)"/><stop offset="0.105" stop-color="rgb(36,36,36)"/><stop offset="0.115" stop-color="rgb(36,36,36)"/><stop offset="0.125" stop-color="rgb(36,36,36)"/><stop offset="0.135" stop-color="rgb(36,36,36)"/><stop offset="0.145" stop-color="rgb(36,36,36)"/><stop offset="0.155" stop-color="rgb(36,36,36)"/><stop offset="0.165" stop-color="rgb(36,36,36)"/><stop offset="0.175" stop-color="rgb(36,36,36)"/><stop offset="0.185" stop-color="rgb(36,36,36)"/><stop offset="0.195" stop-color="rgb(36,36,36)"/><stop offset="0.205" stop-color="rgb(36,36,36)"/><stop offset="0.215" stop-color="rgb(36,36,36)"/><stop offset="0.225" stop-color="rgb(36,36,36)"/><stop offset="0.235" stop-color="rgb(36,36,36)"/><stop offset="0.245" stop-color="rgb(36,36,36)"/><stop offset="0.255" stop-color="rgb(36,36,36)"/><stop offset="0.265" stop-color="rgb(36,36,36)"/><stop offset="0.275" stop-color="rgb(36,36,36)"/><stop offset="0.285" stop-color="rgb(36,36,36)"/><stop offset="0.295" stop-color="rgb(36,36,36)"/><stop offset="0.305" stop-color="rgb(36,36,36)"/><stop offset="0.315" stop-color="rgb(36,36,36)"/><stop offset="0.325" stop-color="rgb(36,36,36)"/><stop offset="0.335" stop-color="rgb(62,62,62)"/><stop offset="0.345" stop-color="rgb(76,76,76)"/><stop offset="0.355" stop-color="rgb(86,86,86)"/><stop offset="0.365" stop-color="rgb(99,99,99)"/><stop offset="0.375" stop-color="rgb(112,112,112)"/><stop offset="0.385" stop-color="rgb(124,124,124)"/><stop offset="0.395" stop-color="rgb(137,137,137)"/><stop offset="0.405" stop-color="rgb(150,150,150)"/><stop offset="0.415" stop-color="rgb(155,155,155)"/><stop offset="0.425" stop-color="rgb(163,163,163)"/><stop offset="0.435" stop-color="rgb(178,178,178)"/><stop offset="0.445" stop-color="rgb(196,196,196)"/><stop offset="0.455" stop-color="rgb(203,203,203)"/><stop offset="0.465" stop-color="rgb(209,209,209)"/><stop offset="0.475" stop-color="rgb(211,211,211)"/><stop offset="0.485" stop-color="rgb(214,214,214)"/><stop offset="0.495" stop-color="rgb(215,215,215)"/><stop offset="0.505" stop-color="rgb(215,215,215)"/><stop offset="0.515" stop-color="rgb(215,215,215)"/><stop offset="0.525" stop-color="rgb(215,215,215)"/><stop offset="0.535" stop-color="rgb(215,215,215)"/><stop offset="0.545" stop-color="rgb(215,215,215)"/><stop offset="0.555" stop-color="rgb(215,215,215)"/><stop offset="0.565" stop-color="rgb(215,215,215)"/><stop offset="0.575" stop-color="rgb(214,214,214)"/><stop offset="0.585" stop-color="rgb(212,212,212)"/><stop offset="0.595" stop-color="rgb(211,211,211)"/><stop offset="0.605" stop-color="rgb(209,209,209)"/><stop offset="0.615" stop-color="rgb(201,201,201)"/><stop offset="0.625" stop-color="rgb(196,196,196)"/><stop offset="0.635" stop-color="rgb(186,186,186)"/><stop offset="0.645" stop-color="rgb(175,175,175)"/><stop offset="0.655" stop-color="rgb(168,168,168)"/><stop offset="0.665" stop-color="rgb(160,160,160)"/><stop offset="0.675" stop-color="rgb(154,154,154)"/><stop offset="0.685" stop-color="rgb(152,152,152)"/><stop offset="0.695" stop-color="rgb(151,151,151)"/><stop offset="0.705" stop-color="rgb(145,145,145)"/><stop offset="0.715" stop-color="rgb(145,145,145)"/><stop offset="0.725" stop-color="rgb(145,145,145)"/><stop offset="0.735" stop-color="rgb(145,145,145)"/><stop offset="0.745" stop-color="rgb(132,132,132)"/><stop offset="0.755" stop-color="rgb(132,132,132)"/><stop offset="0.765" stop-color="rgb(132,132,132)"/><stop offset="0.775" stop-color="rgb(132,132,132)"/><stop offset="0.785" stop-color="rgb(132,132,132)"/><stop offset="0.795" stop-color="rgb(132,132,132)"/><stop offset="0.805" stop-color="rgb(132,132,132)"/><stop offset="0.815" stop-color="rgb(132,132,132)"/><stop offset="0.825" stop-color="rgb(132,132,132)"/><stop offset="0.835" stop-color="rgb(132,132,132)"/><stop offset="0.845" stop-color="rgb(132,132,132)"/><stop offset="0.855" stop-color="rgb(132,132,132)"/><stop offset="0.865" stop-color="rgb(132,132,132)"/><stop offset="0.875" stop-color="rgb(132,132,132)"/><stop offset="0.885" stop-color="rgb(132,132,132)"/><stop offset="0.895" stop-color="rgb(132,132,132)"/><stop offset="0.905" stop-color="rgb(132,132,132)"/><stop offset="0.915" stop-color="rgb(132,132,132)"/><stop offset="0.925" stop-color="rgb(132,132,132)"/><stop offset="0.935" stop-color="rgb(132,132,132)"/><stop offset="0.945" stop-color="rgb(132,132,132)"/><stop offset="0.955" stop-color="rgb(132,132,132)"/><stop offset="0.965" stop-color="rgb(132,132,132)"/><stop offset="0.975" stop-color="rgb(132,132,132)"/><stop offset="0.985" stop-color="rgb(132,132,132)"/><stop offset="0.995" stop-color="rgb(132,132,132)"/></linearGradient><linearGradient id="h7" x1="0" y1="0" x2="1" y2="0"><stop offset="0.005" stop-color="rgb(156,156,156)"/><stop offset="0.015" stop-color="rgb(141,141,141)"/><stop offset="0.025" stop-color="rgb(115,115,115)"/><stop offset="0.035" stop-color="rgb(90,90,90)"/><stop offset="0.045" stop-color="rgb(72,72,72)"/><stop offset="0.055" stop-color="rgb(54,54,54)"/><stop offset="0.065" stop-color="rgb(36,36,36)"/><stop offset="0.075" stop-color="rgb(33,33,33)"/><stop offset="0.085" stop-color="rgb(33,33,33)"/><stop offset="0.095" stop-color="rgb(33,33,33)"/><stop offset="0.105" stop-color="rgb(33,33,33)"/><stop offset="0.115" stop-color="rgb(33,33,33)"/><stop offset="0.125" stop-color="rgb(33,33,33)"/><stop offset="0.135" stop-color="rgb(33,33,33)"/><stop offset="0.145" stop-color="rgb(33,33,33)"/><stop offset="0.155" stop-color="rgb(33,33,33)"/><stop offset="0.165" stop-color="rgb(33,33,33)"/><stop offset="0.175" stop-color="rgb(33,33,33)"/><stop offset="0.185" stop-color="rgb(33,33,33)"/><stop offset="0.195" stop-color="rgb(33,33,33)"/><stop offset="0.205" stop-color="rgb(33,33,33)"/><stop offset="0.215" stop-color="rgb(33,33,33)"/><stop offset="0.225" stop-color="rgb(33,33,33)"/><stop offset="0.235" stop-color="rgb(33,33,33)"/><stop offset="0.245" stop-color="rgb(33,33,33)"/><stop offset="0.255" stop-color="rgb(33,33,33)"/><stop offset="0.265" stop-color="rgb(33,33,33)"/><stop offset="0.275" stop-color="rgb(33,33,33)"/><stop offset="0.285" stop-color="rgb(33,33,33)"/><stop offset="0.295" stop-color="rgb(33,33,33)"/><stop offset="0.305" stop-color="rgb(33,33,33)"/><stop offset="0.315" stop-color="rgb(33,33,33)"/><stop offset="0.325" stop-color="rgb(33,33,33)"/><stop offset="0.335" stop-color="rgb(59,59,59)"/><stop offset="0.345" stop-color="rgb(72,72,72)"/><stop offset="0.355" stop-color="rgb(82,82,82)"/><stop offset="0.365" stop-color="rgb(95,95,95)"/><stop offset="0.375" stop-color="rgb(108,108,108)"/><stop offset="0.385" stop-color="rgb(120,120,120)"/><stop offset="0.395" stop-color="rgb(133,133,133)"/><stop offset="0.405" stop-color="rgb(146,146,146)"/><stop offset="0.415" stop-color="rgb(151,151,151)"/><stop offset="0.425" stop-color="rgb(159,159,159)"/><stop offset="0.435" stop-color="rgb(174,174,174)"/><stop offset="0.445" stop-color="rgb(192,192,192)"/><stop offset="0.455" stop-color="rgb(197,197,197)"/><stop offset="0.465" stop-color="rgb(202,202,202)"/><stop offset="0.475" stop-color="rgb(205,205,205)"/><stop offset="0.485" stop-color="rgb(207,207,207)"/><stop offset="0.495" stop-color="rgb(208,208,208)"/><stop offset="0.505" stop-color="rgb(208,208,208)"/><stop offset="0.515" stop-color="rgb(208,208,208)"/><stop offset="0.525" stop-color="rgb(208,208,208)"/><stop offset="0.535" stop-color="rgb(208,208,208)"/><stop offset="0.545" stop-color="rgb(208,208,208)"/><stop offset="0.555" stop-color="rgb(208,208,208)"/><stop offset="0.565" stop-color="rgb(208,208,208)"/><stop offset="0.575" stop-color="rgb(207,207,207)"/><stop offset="0.585" stop-color="rgb(206,206,206)"/><stop offset="0.595" stop-color="rgb(205,205,205)"/><stop offset="0.605" stop-color="rgb(202,202,202)"/><stop offset="0.615" stop-color="rgb(194,194,194)"/><stop offset="0.625" stop-color="rgb(192,192,192)"/><stop offset="0.635" stop-color="rgb(182,182,182)"/><stop offset="0.645" stop-color="rgb(171,171,171)"/><stop offset="0.655" stop-color="rgb(164,164,164)"/><stop offset="0.665" stop-color="rgb(156,156,156)"/><stop offset="0.675" stop-color="rgb(150,150,150)"/><stop offset="0.685" stop-color="rgb(148,148,148)"/><stop offset="0.695" stop-color="rgb(147,147,147)"/><stop offset="0.705" stop-color="rgb(141,141,141)"/><stop offset="0.715" stop-color="rgb(141,141,141)"/><stop offset="0.725" stop-color="rgb(141,141,141)"/><stop offset="0.735" stop-color="rgb(141,141,141)"/><stop offset="0.745" stop-color="rgb(128,128,128)"/><stop offset="0.755" stop-color="rgb(128,128,128)"/><stop offset="0.765" stop-color="rgb(128,128,128)"/><stop offset="0.775" stop-color="rgb(128,128,128)"/><stop offset="0.785" stop-color="rgb(128,128,128)"/><stop offset="0.795" stop-color="rgb(128,128,128)"/><stop offset="0.805" stop-color="rgb(128,128,128)"/><stop offset="0.815" stop-color="rgb(128,128,128)"/><stop offset="0.825" stop-color="rgb(128,128,128)"/><stop offset="0.835" stop-color="rgb(128,128,128)"/><stop offset="0.845" stop-color="rgb(128,128,128)"/><stop offset="0.855" stop-color="rgb(128,128,128)"/><stop offset="0.865" stop-color="rgb(128,128,128)"/><stop offset="0.875" stop-color="rgb(128,128,128)"/><stop offset="0.885" stop-color="rgb(128,128,128)"/><stop offset="0.895" stop-color="rgb(128,128,128)"/><stop offset="0.905" stop-color="rgb(128,128,128)"/><stop offset="0.915" stop-color="rgb(128,128,128)"/><stop offset="0.925" stop-color="rgb(128,128,128)"/><stop offset="0.935" stop-color="rgb(128,128,128)"/><stop offset="0.945" stop-color="rgb(128,128,128)"/><stop offset="0.955" stop-color="rgb(128,128,128)"/><stop offset="0.965" stop-color="rgb(128,128,128)"/><stop offset="0.975" stop-color="rgb(128,128,128)"/><stop offset="0.985" stop-color="rgb(128,128,128)"/><stop offset="0.995" stop-color="rgb(128,128,128)"/></linearGradient><linearGradient id="h8" x1="0" y1="0" x2="1" y2="0"><stop offset="0.005" stop-color="rgb(179,179,179)"/><stop offset="0.015" stop-color="rgb(163,163,163)"/><stop offset="0.025" stop-color="rgb(138,138,138)"/><stop offset="0.035" stop-color="rgb(112,112,112)"/><stop offset="0.045" stop-color="rgb(94,94,94)"/><stop offset="0.055" stop-color="rgb(36,36,36)"/><stop offset="0.065" stop-color="rgb(12,12,12)"/><stop offset="0.075" stop-color="rgb(8,8,8)"/><stop offset="0.085" stop-color="rgb(8,8,8)"/><stop offset="0.095" stop-color="rgb(8,8,8)"/><stop offset="0.105" stop-color="rgb(8,8,8)"/><stop offset="0.115" stop-color="rgb(8,8,8)"/><stop offset="0.125" stop-color="rgb(8,8,8)"/><stop offset="0.135" stop-color="rgb(8,8,8)"/><stop offset="0.145" stop-color="rgb(8,8,8)"/><stop offset="0.155" stop-color="rgb(8,8,8)"/><stop offset="0.165" stop-color="rgb(8,8,8)"/><stop offset="0.175" stop-color="rgb(8,8,8)"/><stop offset="0.185" stop-color="rgb(8,8,8)"/><stop offset="0.195" stop-color="rgb(8,8,8)"/><stop offset="0.205" stop-color="rgb(8,8,8)"/><stop offset="0.215" stop-color="rgb(8,8,8)"/><stop offset="0.225" stop-color="rgb(8,8,8)"/><stop offset="0.235" stop-color="rgb(8,8,8)"/><stop offset="0.245" stop-color="rgb(8,8,8)"/><stop offset="0.255" stop-color="rgb(8,8,8)"/><stop offset="0.265" stop-color="rgb(8,8,8)"/><stop offset="0.275" stop-color="rgb(8,8,8)"/><stop offset="0.285" stop-color="rgb(8,8,8)"/><stop offset="0.295" stop-color="rgb(8,8,8)"/><stop offset="0.305" stop-color="rgb(8,8,8)"/><stop offset="0.315" stop-color="rgb(8,8,8)"/><stop offset="0.325" stop-color="rgb(8,8,8)"/><stop offset="0.335" stop-color="rgb(43,43,43)"/><stop offset="0.345" stop-color="rgb(94,94,94)"/><stop offset="0.355" stop-color="rgb(105,105,105)"/><stop offset="0.365" stop-color="rgb(117,117,117)"/><stop offset="0.375" stop-color="rgb(130,130,130)"/><stop offset="0.385" stop-color="rgb(143,143,143)"/><stop offset="0.395" stop-color="rgb(156,156,156)"/><stop offset="0.405" stop-color="rgb(168,168,168)"/><stop offset="0.415" stop-color="rgb(173,173,173)"/><stop offset="0.425" stop-color="rgb(181,181,181)"/><stop offset="0.435" stop-color="rgb(196,196,196)"/><stop offset="0.445" stop-color="rgb(214,214,214)"/><stop offset="0.455" stop-color="rgb(246,246,246)"/><stop offset="0.465" stop-color="rgb(253,253,253)"/><stop offset="0.475" stop-color="rgb(255,255,255)"/><stop offset="0.485" stop-color="rgb(255,255,255)"/><stop offset="0.495" stop-color="rgb(255,255,255)"/><stop offset="0.505" stop-color="rgb(255,255,255)"/><stop offset="0.515" stop-color="rgb(255,255,255)"/><stop offset="0.525" stop-color="rgb(255,255,255)"/><stop offset="0.535" stop-color="rgb(255,255,255)"/><stop offset="0.545" stop-color="rgb(255,255,255)"/><stop offset="0.555" stop-color="rgb(255,255,255)"/><stop offset="0.565" stop-color="rgb(255,255,255)"/><stop offset="0.575" stop-color="rgb(255,255,255)"/><stop offset="0.585" stop-color="rgb(255,255,255)"/><stop offset="0.595" stop-color="rgb(255,255,255)"/><stop offset="0.605" stop-color="rgb(253,253,253)"/><stop offset="0.615" stop-color="rgb(243,243,243)"/><stop offset="0.625" stop-color="rgb(214,214,214)"/><stop offset="0.635" stop-color="rgb(204,204,204)"/><stop offset="0.645" stop-color="rgb(194,194,194)"/><stop offset="0.655" stop-color="rgb(186,186,186)"/><stop offset="0.665" stop-color="rgb(179,179,179)"/><stop offset="0.675" stop-color="rgb(172,172,172)"/><stop offset="0.685" stop-color="rgb(171,171,171)"/><stop offset="0.695" stop-color="rgb(170,170,170)"/><stop offset="0.705" stop-color="rgb(163,163,163)"/><stop offset="0.715" stop-color="rgb(163,163,163)"/><stop offset="0.725" stop-color="rgb(163,163,163)"/><stop offset="0.735" stop-color="rgb(163,163,163)"/><stop offset="0.745" stop-color="rgb(150,150,150)"/><stop offset="0.755" stop-color="rgb(150,150,150)"/><stop offset="0.765" stop-color="rgb(150,150,150)"/><stop offset="0.775" stop-color="rgb(150,150,150)"/><stop offset="0.785" stop-color="rgb(150,150,150)"/><stop offset="0.795" stop-color="rgb(150,150,150)"/><stop offset="0.805" stop-color="rgb(150,150,150)"/><stop offset="0.815" stop-color="rgb(150,150,150)"/><stop offset="0.825" stop-color="rgb(150,150,150)"/><stop offset="0.835" stop-color="rgb(150,150,150)"/><stop offset="0.845" stop-color="rgb(150,150,150)"/><stop offset="0.855" stop-color="rgb(150,150,150)"/><stop offset="0.865" stop-color="rgb(150,150,150)"/><stop offset="0.875" stop-color="rgb(150,150,150)"/><stop offset="0.885" stop-color="rgb(150,150,150)"/><stop offset="0.895" stop-color="rgb(150,150,150)"/><stop offset="0.905" stop-color="rgb(150,150,150)"/><stop offset="0.915" stop-color="rgb(150,150,150)"/><stop offset="0.925" stop-color="rgb(150,150,150)"/><stop offset="0.935" stop-color="rgb(150,150,150)"/><stop offset="0.945" stop-color="rgb(150,150,150)"/><stop offset="0.955" stop-color="rgb(150,150,150)"/><stop offset="0.965" stop-color="rgb(150,150,150)"/><stop offset="0.975" stop-color="rgb(150,150,150)"/><stop offset="0.985" stop-color="rgb(150,150,150)"/><stop offset="0.995" stop-color="rgb(150,150,150)"/></linearGradient><radialGradient id="blob"><stop offset="0" stop-color="#fff" stop-opacity="0.8"/><stop offset="0.35" stop-color="#fff" stop-opacity="0.6"/><stop offset="1" stop-color="#fff" stop-opacity="0"/></radialGradient><linearGradient id="cbg" x1="0" y1="0" x2="0" y2="1"><stop offset="0" stop-color="#fff"/><stop offset="1" stop-color="#000"/></linearGradient><filter id="gb" x="0" y="0" width="1" height="1" color-interpolation-filters="sRGB"><feGaussianBlur stdDeviation="0.4"/></filter></defs><g filter="url(#gb)"><rect width="350" height="314" fill="#fff"/><g filter="url(#jet)"><rect x="38.6" y="4.5" width="93.20" height="91.00" fill="url(#h2)"/><rect x="38.6" y="4.50" width="93.20" height="1.21" fill="url(#h0)"/><rect x="38.6" y="5.41" width="93.20" height="1.21" fill="url(#h1)"/><rect x="38.6" y="6.32" width="93.20" height="1.21" fill="url(#h1)"/><rect x="38.6" y="7.23" width="93.20" height="1.21" fill="url(#h2)"/><rect x="38.6" y="8.14" width="93.20" height="1.21" fill="url(#h2)"/><rect x="38.6" y="9.05" width="93.20" height="1.21" fill="url(#h3)"/><rect x="38.6" y="9.96" width="93.20" height="1.21" fill="url(#h3)"/><rect x="38.6" y="10.87" width="93.20" height="1.21" fill="url(#h4)"/><rect x="38.6" y="11.78" width="93.20" height="1.21" fill="url(#h2)"/><rect x="38.6" y="12.69" width="93.20" height="1.21" fill="url(#h2)"/><rect x="38.6" y="13.60" width="93.20" height="1.21" fill="url(#h2)"/><rect x="38.6" y="14.51" width="93.20" height="1.21" fill="url(#h5)"/><rect x="38.6" y="15.42" width="93.20" height="1.21" fill="url(#h5)"/><rect x="38.6" y="16.33" width="93.20" height="1.21" fill="url(#h2)"/><rect x="38.6" y="17.24" width="93.20" height="1.21" fill="url(#h4)"/><rect x="38.6" y="18.15" width="93.20" height="1.21" fill="url(#h4)"/><rect x="38.6" y="19.06" width="93.20" height="1.21" fill="url(#h5)"/><rect x="38.6" y="19.97" width="93.20" height="1.21" fill="url(#h5)"/><rect x="38.6" y="20.88" width="93.20" height="1.21" fill="url(#h2)"/><rect x="38.6" y="21.79" width="93.20" height="1.21" fill="url(#h2)"/><rect x="38.6" y="22.70" width="93.20" height="1.21" fill="url(#h4)"/><rect x="38.6" y="23.61" width="93.20" height="1.21" fill="url(#h4)"/><rect x="38.6" y="24.52" width="93.20" height="1.21" fill="url(#h5)"/><rect x="38.6" y="25.43" width="93.20" height="1.21" fill="url(#h5)"/><rect x="38.6" y="26.34" width="93.20" height="1.21" fill="url(#h6)"/><rect x="38.6" y="27.25" width="93.20" height="1.21" fill="url(#h6)"/><rect x="38.6" y="28.16" width="93.20" height="1.21" fill="url(#h2)"/><rect x="38.6" y="29.07" width="93.20" height="1.21" fill="url(#h2)"/><rect x="38.6" y="29.98" width="93.20" height="1.21" fill="url(#h3)"/><rect x="38.6" y="30.89" width="93.20" height="1.21" fill="url(#h3)"/><rect x="38.6" y="31.80" width="93.20" height="1.21" fill="url(#h3)"/><rect x="38.6" y="32.71" width="93.20" height="1.21" fill="url(#h3)"/><rect x="38.6" y="33.62" width="93.20" height="1.21" fill="url(#h2)"/><rect x="38.6" y="34.53" width="93.20" height="1.21" fill="url(#h4)"/><rect x="38.6" y="35.44" width="93.20" height="1.21" fill="url(#h4)"/><rect x="38.6" y="36.35" width="93.20" height="1.21" fill="url(#h2)"/><rect x="38.6" y="37.26" width="93.20" height="1.21" fill="url(#h2)"/><rect x="38.6" y="38.17" width="93.20" height="1.21" fill="url(#h5)"/><rect x="38.6" y="39.08" width="93.20" height="1.21" fill="url(#h5)"/><rect x="38.6" y="39.99" width="93.20" height="1.21" fill="url(#h2)"/><rect x="38.6" y="40.90" width="93.20" height="1.21" fill="url(#h4)"/><rect x="38.6" y="41.81" width="93.20" height="1.21" fill="url(#h4)"/><rect x="38.6" y="42.72" width="93.20" height="1.21" fill="url(#h2)"/><rect x="38.6" y="43.63" width="93.20" height="1.21" fill="url(#h5)"/><rect x="38.6" y="44.54" width="93.20" height="1.21" fill="url(#h5)"/><rect x="38.6" y="45.45" width="93.20" height="1.21" fill="url(#h2)"/><rect x="38.6" y="46.36" width="93.20" height="1.21" fill="url(#h4)"/><rect x="38.6" y="47.27" width="93.20" height="1.21" fill="url(#h4)"/><rect x="38.6" y="48.18" width="93.20" height="1.21" fill="url(#h2)"/><rect x="38.6" y="49.09" width="93.20" height="1.21" fill="url(#h2)"/><rect x="38.6" y="50.00" width="93.20" height="1.21" fill="url(#h2)"/><rect x="38.6" y="50.91" width="93.20" height="1.21" fill="url(#h7)"/><rect x="38.6" y="51.82" width="93.20" height="1.21" fill="url(#h7)"/><rect x="38.6" y="52.73" width="93.20" height="1.21" fill="url(#h5)"/><rect x="38.6" y="53.64" width="93.20" height="1.21" fill="url(#h5)"/><rect x="38.6" y="54.55" width="93.20" height="1.21" fill="url(#h2)"/><rect x="38.6" y="55.46" width="93.20" height="1.21" fill="url(#h2)"/><rect x="38.6" y="56.37" width="93.20" height="1.21" fill="url(#h2)"/><rect x="38.6" y="57.28" width="93.20" height="1.21" fill="url(#h2)"/><rect x="38.6" y="58.19" width="93.20" height="1.21" fill="url(#h6)"/><rect x="38.6" y="59.10" width="93.20" height="1.21" fill="url(#h6)"/><rect x="38.6" y="60.01" width="93.20" height="1.21" fill="url(#h5)"/><rect x="38.6" y="60.92" width="93.20" height="1.21" fill="url(#h5)"/><rect x="38.6" y="61.83" width="93.20" height="1.21" fill="url(#h2)"/><rect x="38.6" y="62.74" width="93.20" height="1.21" fill="url(#h2)"/><rect x="38.6" y="63.65" width="93.20" height="1.21" fill="url(#h2)"/><rect x="38.6" y="64.56" width="93.20" height="1.21" fill="url(#h4)"/><rect x="38.6" y="65.47" width="93.20" height="1.21" fill="url(#h4)"/><rect x="38.6" y="66.38" width="93.20" height="1.21" fill="url(#h2)"/><rect x="38.6" y="67.29" width="93.20" height="1.21" fill="url(#h5)"/><rect x="38.6" y="68.20" width="93.20" height="1.21" fill="url(#h5)"/><rect x="38.6" y="69.11" width="93.20" height="1.21" fill="url(#h4)"/><rect x="38.6" y="70.02" width="93.20" height="1.21" fill="url(#h4)"/><rect x="38.6" y="70.93" width="93.20" height="1.21" fill="url(#h2)"/><rect x="38.6" y="71.84" width="93.20" height="1.21" fill="url(#h5)"/><rect x="38.6" y="72.75" width="93.20" height="1.21" fill="url(#h5)"/><rect x="38.6" y="73.66" width="93.20" height="1.21" fill="url(#h2)"/><rect x="38.6" y="74.57" width="93.20" height="1.21" fill="url(#h4)"/><rect x="38.6" y="75.48" width="93.20" height="1.21" fill="url(#h4)"/><rect x="38.6" y="76.39" width="93.20" height="1.21" fill="url(#h2)"/><rect x="38.6" y="77.30" width="93.20" height="1.21" fill="url(#h5)"/><rect x="38.6" y="78.21" width="93.20" height="1.21" fill="url(#h5)"/><rect x="38.6" y="79.12" width="93.20" height="1.21" fill="url(#h4)"/><rect x="38.6" y="80.03" width="93.20" height="1.21" fill="url(#h4)"/><rect x="38.6" y="80.94" width="93.20" height="1.21" fill="url(#h5)"/><rect x="38.6" y="81.85" width="93.20" height="1.21" fill="url(#h5)"/><rect x="38.6" y="82.76" width="93.20" height="1.21" fill="url(#h2)"/><rect x="38.6" y="83.67" width="93.20" height="1.21" fill="url(#h4)"/><rect x="38.6" y="84.58" width="93.20" height="1.21" fill="url(#h4)"/><rect x="38.6" y="85.49" width="93.20" height="1.21" fill="url(#h5)"/><rect x="38.6" y="86.40" width="93.20" height="1.21" fill="url(#h5)"/><rect x="38.6" y="87.31" width="93.20" height="1.21" fill="url(#h4)"/><rect x="38.6" y="88.22" width="93.20" height="1.21" fill="url(#h4)"/><rect x="38.6" y="89.13" width="93.20" height="1.21" fill="url(#h2)"/><rect x="38.6" y="90.04" width="93.20" height="1.21" fill="url(#h5)"/><rect x="38.6" y="90.95" width="93.20" height="1.21" fill="url(#h5)"/><rect x="38.6" y="91.86" width="93.20" height="1.21" fill="url(#h4)"/><rect x="38.6" y="92.77" width="93.20" height="1.21" fill="url(#h4)"/><rect x="38.6" y="93.68" width="93.20" height="1.21" fill="url(#h2)"/><rect x="38.6" y="94.59" width="93.20" height="1.21" fill="url(#h8)"/><ellipse cx="88" cy="18.8" rx="9" ry="8.5" fill="url(#blob)"/></g><g filter="url(#jet)"><rect x="144" y="4.4" width="6.60" height="90.80" fill="url(#cbg)"/></g><text x="35.6" y="9.1" font-size="10" text-anchor="end" font-family="Liberation Sans" fill="#262626" stroke="#262626" stroke-width="0.15" >100</text><text x="35.6" y="27.75" font-size="10" text-anchor="end" font-family="Liberation Sans" fill="#262626" stroke="#262626" stroke-width="0.15" >80</text><text x="35.6" y="45.6" font-size="10" text-anchor="end" font-family="Liberation Sans" fill="#262626" stroke="#262626" stroke-width="0.15" >60</text><text x="35.6" y="64.2" font-size="10" text-anchor="end" font-family="Liberation Sans" fill="#262626" stroke="#262626" stroke-width="0.15" >40</text><text x="35.6" y="82.7" font-size="10" text-anchor="end" font-family="Liberation Sans" fill="#262626" stroke="#262626" stroke-width="0.15" >20</text><text x="39.1" y="109.0" font-size="10" text-anchor="middle" font-family="Liberation Sans" fill="#262626" stroke="#262626" stroke-width="0.15" >0</text><text x="85.25" y="109.0" font-size="10" text-anchor="middle" font-family="Liberation Sans" fill="#262626" stroke="#262626" stroke-width="0.15" >50</text><text x="132" y="109.0" font-size="10" text-anchor="middle" font-family="Liberation Sans" fill="#262626" stroke="#262626" stroke-width="0.15" >100</text><text x="85.3" y="123.3" font-size="10.6" text-anchor="middle" font-family="Liberation Sans" fill="#262626" stroke="#262626" stroke-width="0.15" >t</text><text x="153.3" y="14.9" font-size="9.4" text-anchor="start" font-family="Liberation Sans" fill="#262626" stroke="#262626" stroke-width="0.15" >0.12</text><text x="153.3" y="32.4" font-size="9.4" text-anchor="start" font-family="Liberation Sans" fill="#262626" stroke="#262626" stroke-width="0.15" >0.1</text><text x="153.3" y="49.8" font-size="9.4" text-anchor="start" font-family="Liberation Sans" fill="#262626" stroke="#262626" stroke-width="0.15" >0.08</text><text x="153.3" y="66.8" font-size="9.4" text-anchor="start" font-family="Liberation Sans" fill="#262626" stroke="#262626" stroke-width="0.15" >0.06</text><text x="153.3" y="84.3" font-size="9.4" text-anchor="start" font-family="Liberation Sans" fill="#262626" stroke="#262626" stroke-width="0.15" >0.04</text><text transform="translate(9.3,52.75) rotate(-90)" font-size="10.5" font-family="Liberation Sans" fill="#262626">I<tspan font-size="8.2" dy="5.6">i</tspan></text><text x="82.8" y="145.60" font-size="14.2" text-anchor="middle" font-family="Liberation Serif" fill="#262626" textLength="17.2" lengthAdjust="spacingAndGlyphs">(a)</text><rect x="230.3" y="4.5" width="118.00" height="90.80" fill="none" stroke="#a0a0a0" stroke-width="1.15"/><path d="M230.3 50.25h1.2M348.3 50.25h-1.2M289.3 95.3v-1.2M289.3 4.5v1.2" stroke="#999" stroke-width="0.8" fill="none"/><g transform="translate(231,7) scale(1.18,1.18)"><path d="M18 0.5h1m1 0h6m5 0h5m1 0h1m1 0h1m6 0h3m3 0h1m4 0h1m9 0h2m18 0h1m2 0h1m5 0h1m1 0h1m-85 1h1m2 0h1m2 0h1m2 0h1m1 0h2m1 0h1m3 0h1m13 0h1m12 0h1m3 0h1m2 0h1m7 0h1m8 0h1m1 0h3m4 0h1m3 0h1m-82 1h4m2 0h2m2 0h2m6 0h3m1 0h2m5 0h1m1 0h1m9 0h1m3 0h1m3 0h2m16 0h1m2 0h1m7 0h1m-76 1h2m1 0h1m3 0h2m1 0h3m1 0h2m1 0h3m1 0h1m4 0h2m1 0h1m3 0h2m1 0h1m20 0h1m4 0h1m2 0h1m1 0h1m-69 1h1m1 0h1m2 0h1m1 0h5m2 0h1m3 0h5m5 0h2m23 0h1m5 0h1m4 0h1m10 0h1m-78 1h2m1 0h1m2 0h2m1 0h1m1 0h1m1 0h1m1 0h4m1 0h2m9 0h1m10 0h1m3 0h1m9 0h1m3 0h1m6 0h1m1 0h1m11 0h1m-83 1h1m1 0h3m1 0h4m1 0h1m1 0h1m1 0h1m2 0h1m8 0h1m2 0h1m3 0h1m8 0h1m1 0h1m3 0h1m7 0h2m3 0h1m3 0h1m3 0h2m5 0h1m-77 1h1m4 0h1m2 0h4m1 0h3m1 0h3m4 0h1m3 0h1m3 0h1m1 0h1m6 0h1m6 0h1m8 0h1m12 0h1m5 0h1m2 0h2m-77 1h3m4 0h3m5 0h2m4 0h1m8 0h1m9 0h1m5 0h2m1 0h1m2 0h2m4 0h1m4 0h1m1 0h3m4 0h1m5 0h1m-84 1h3m1 0h1m2 0h3m1 0h1m2 0h1m2 0h1m2 0h2m2 0h1m1 0h1m3 0h1m8 0h1m5 0h2m1 0h3m1 0h1m6 0h1m9 0h1m-71 1h3m3 0h1m1 0h1m2 0h2m7 0h2m1 0h1m2 0h2m1 0h1m3 0h1m3 0h1m6 0h1m23 0h1m2 0h4m8 0h1m-82 1h2m4 0h1m5 0h4m2 0h1m1 0h2m7 0h1m3 0h1m5 0h1m3 0h1m11 0h1m1 0h1m-56 1h1m1 0h1m1 0h1m5 0h1m1 0h1m2 0h1m1 0h4m2 0h4m4 0h2m1 0h1m1 0h1m3 0h1m4 0h1m2 0h1m5 0h2m-56 1h1m4 0h1m4 0h1m1 0h1m2 0h1m4 0h1m5 0h3m2 0h2m2 0h3m1 0h1m2 0h1m3 0h1m8 0h1m13 0h2m9 0h1m-85 1h1m4 0h1m2 0h1m4 0h1m1 0h4m4 0h1m2 0h1m1 0h1m1 0h1m2 0h1m3 0h1m1 0h2m1 0h1m4 0h1m2 0h1m3 0h1m2 0h1m9 0h1m15 0h1m-83 1h1m3 0h4m3 0h1m1 0h1m1 0h1m4 0h1m4 0h5m3 0h3m3 0h1m2 0h1m2 0h1m1 0h1m1 0h1m7 0h1m13 0h1m2 0h1m3 0h2m-79 1h1m9 0h1m1 0h3m1 0h1m2 0h2m2 0h2m2 0h1m6 0h1m2 0h1m2 0h1m4 0h1m3 0h1m2 0h1m4 0h1m8 0h1m1 0h1m5 0h2m4 0h1m-78 1h4m1 0h5m2 0h1m5 0h1m1 0h2m6 0h3m6 0h1m1 0h1m1 0h1m1 0h2m1 0h2m12 0h1m4 0h1m3 0h1m2 0h1m2 0h1m-81 1h1m4 0h2m1 0h1m1 0h1m1 0h1m2 0h1m1 0h3m2 0h1m1 0h1m1 0h1m6 0h2m6 0h1m2 0h1m2 0h1m2 0h1m5 0h1m9 0h1m2 0h1m5 0h1m-75 1h1m3 0h1m3 0h1m2 0h2m1 0h4m1 0h1m3 0h1m7 0h2m4 0h1m2 0h1m2 0h1m9 0h1m2 0h1m9 0h1m4 0h1m4 0h1m3 0h1m4 0h1m-86 1h2m3 0h1m3 0h2m1 0h2m1 0h1m1 0h2m3 0h3m1 0h1m4 0h3m1 0h1m2 0h2m1 0h1m4 0h1m1 0h1m8 0h1m2 0h2m8 0h1m6 0h1m4 0h4m-77 1h4m1 0h1m2 0h1m3 0h1m1 0h2m2 0h1m7 0h2m2 0h2m5 0h2m2 0h1m3 0h1m2 0h1m3 0h2m15 0h1m-79 1h1m2 0h1m4 0h1m3 0h2m3 0h4m1 0h3m2 0h1m7 0h1m3 0h1m2 0h1m1 0h2m1 0h1m3 0h1m3 0h1m1 0h1m4 0h2m3 0h1m1 0h1m1 0h1m-73 1h2m3 0h6m2 0h2m2 0h1m1 0h2m1 0h2m1 0h4m6 0h2m1 0h2m3 0h4m5 0h2m3 0h1m4 0h3m6 0h1m6 0h1m4 0h1m-81 1h2m1 0h1m1 0h1m1 0h1m1 0h4m1 0h1m1 0h1m1 0h2m5 0h2m1 0h2m4 0h1m6 0h1m3 0h2m1 0h1m2 0h1m3 0h3m8 0h1m3 0h1m8 0h1m3 0h1m-85 1h2m1 0h1m1 0h1m3 0h1m2 0h2m2 0h1m1 0h1m5 0h1m2 0h4m1 0h5m5 0h2m7 0h1m9 0h1m13 0h2m6 0h2m-87 1h2m4 0h1m2 0h2m2 0h4m1 0h1m3 0h2m3 0h6m2 0h2m2 0h1m4 0h1m3 0h2m2 0h1m2 0h2m2 0h1m2 0h1m2 0h1m11 0h1m5 0h1m-82 1h1m3 0h1m7 0h1m2 0h1m1 0h1m3 0h1m1 0h1m2 0h2m1 0h9m1 0h1m1 0h2m3 0h2m4 0h1m2 0h1m6 0h1m5 0h1m5 0h2m3 0h3m-84 1h2m1 0h1m10 0h2m1 0h2m3 0h3m4 0h1m2 0h1m3 0h3m3 0h4m2 0h2m3 0h1m8 0h2m3 0h1m3 0h2m4 0h1m1 0h1m3 0h1m1 0h1m-85 1h2m2 0h1m10 0h2m3 0h1m1 0h1m5 0h2m1 0h1m2 0h1m2 0h1m2 0h1m2 0h1m2 0h1m4 0h1m3 0h1m2 0h1m1 0h1m1 0h1m7 0h2m3 0h1m5 0h1m-82 1h1m5 0h1m2 0h1m4 0h1m4 0h1m1 0h1m3 0h1m3 0h1m1 0h1m1 0h1m5 0h1m1 0h1m2 0h1m6 0h2m3 0h1m5 0h3m8 0h1m5 0h1m3 0h1m-81 1h2m2 0h2m6 0h3m1 0h1m1 0h1m1 0h2m1 0h2m1 0h2m1 0h1m5 0h2m1 0h1m3 0h1m1 0h1m15 0h2m3 0h1m1 0h1m-72 1h4m1 0h1m1 0h2m5 0h1m2 0h5m1 0h2m2 0h1m1 0h1m1 0h2m1 0h1m4 0h1m1 0h2m4 0h1m1 0h1m1 0h1m10 0h2m9 0h1m3 0h1m-78 1h1m1 0h3m1 0h1m3 0h1m1 0h1m1 0h1m4 0h1m1 0h1m2 0h3m1 0h3m2 0h1m5 0h1m1 0h3m3 0h1m4 0h2m2 0h1m8 0h1m9 0h2m1 0h1m4 0h2m-84 1h2m2 0h2m3 0h2m2 0h1m7 0h1m5 0h1m3 0h2m4 0h1m1 0h1m1 0h3m2 0h2m1 0h1m1 0h4m8 0h1m4 0h1m2 0h1m2 0h1m2 0h4m2 0h1m-85 1h3m1 0h1m1 0h3m6 0h1m1 0h2m1 0h2m1 0h1m1 0h1m4 0h1m6 0h1m2 0h2m1 0h1m2 0h1m2 0h2m1 0h3m11 0h1m1 0h1m4 0h1m3 0h1m1 0h2m3 0h1m-85 1h1m2 0h1m6 0h1m8 0h1m2 0h1m3 0h2m2 0h3m1 0h3m2 0h1m1 0h2m4 0h2m1 0h2m2 0h1m12 0h1m2 0h1m2 0h2m3 0h1m1 0h2m1 0h1m1 0h1m-85 1h4m3 0h2m3 0h2m1 0h4m2 0h1m1 0h1m3 0h2m1 0h2m5 0h2m2 0h1m2 0h1m1 0h1m2 0h1m5 0h2m11 0h4m4 0h2m2 0h2m2 0h1m-85 1h1m2 0h1m2 0h1m3 0h1m6 0h1m1 0h1m1 0h1m4 0h1m3 0h1m1 0h1m1 0h1m1 0h2m2 0h1m1 0h1m1 0h1m1 0h5m1 0h2m8 0h1m1 0h1m1 0h1m1 0h1m1 0h1m7 0h1m1 0h3m2 0h1m-86 1h3m1 0h1m2 0h1m6 0h1m1 0h1m1 0h1m3 0h1m2 0h2m1 0h2m6 0h1m1 0h2m2 0h3m3 0h1m1 0h1m1 0h1m1 0h1m2 0h1m1 0h1m4 0h1m4 0h1m2 0h2m7 0h1m-81 1h1m4 0h2m7 0h2m2 0h1m1 0h1m2 0h1m3 0h1m7 0h3m1 0h3m2 0h4m1 0h1m3 0h1m3 0h1m1 0h3m2 0h4m3 0h1m3 0h1m2 0h1m1 0h2m-80 1h1m1 0h3m5 0h1m2 0h1m7 0h1m1 0h1m1 0h2m1 0h1m4 0h2m1 0h1m1 0h2m3 0h5m8 0h1m1 0h3m1 0h1m2 0h1m11 0h2m1 0h1m-85 1h2m4 0h1m1 0h3m4 0h2m2 0h1m1 0h1m3 0h2m3 0h4m2 0h1m1 0h2m1 0h1m2 0h5m3 0h1m1 0h1m3 0h1m2 0h3m1 0h1m1 0h1m2 0h1m3 0h1m3 0h1m3 0h1m3 0h1m-81 1h1m2 0h1m2 0h1m1 0h1m1 0h1m1 0h3m4 0h2m3 0h1m1 0h1m4 0h3m1 0h1m4 0h2m1 0h2m3 0h2m2 0h6m1 0h2m4 0h2m1 0h2m1 0h3m5 0h1m-86 1h1m3 0h1m2 0h3m1 0h4m1 0h1m5 0h1m2 0h1m1 0h1m1 0h1m3 0h1m2 0h2m1 0h1m2 0h1m3 0h3m1 0h4m3 0h5m2 0h1m2 0h1m3 0h1m2 0h1m5 0h1m1 0h2m1 0h1m-86 1h1m1 0h1m2 0h1m12 0h1m3 0h1m1 0h1m1 0h1m2 0h1m4 0h2m5 0h1m6 0h2m2 0h1m3 0h1m10 0h1m5 0h2m6 0h1m-79 1h1m7 0h1m1 0h1m3 0h1m7 0h1m2 0h1m3 0h3m1 0h3m1 0h2m4 0h2m1 0h1m4 0h3m1 0h7m5 0h2m8 0h1m3 0h1m-80 1h2m9 0h3m2 0h1m2 0h1m1 0h2m1 0h2m1 0h1m1 0h1m5 0h3m1 0h1m2 0h1m2 0h2m3 0h1m1 0h1m2 0h1m3 0h1m1 0h1m2 0h1m5 0h1m-61 1h4m2 0h2m7 0h1m3 0h1m2 0h1m3 0h2m2 0h1m2 0h1m1 0h1m2 0h1m1 0h2m2 0h1m1 0h2m3 0h2m1 0h1m2 0h1m1 0h1m11 0h1m-83 1h1m2 0h1m2 0h1m2 0h1m4 0h1m4 0h2m2 0h1m1 0h1m1 0h1m4 0h1m7 0h6m1 0h1m1 0h1m2 0h1m2 0h1m1 0h1m1 0h1m1 0h1m1 0h2m2 0h2m4 0h3m4 0h1m-79 1h1m9 0h2m3 0h1m2 0h2m2 0h1m1 0h1m2 0h2m3 0h1m2 0h1m1 0h2m1 0h1m1 0h1m3 0h2m1 0h1m1 0h2m1 0h1m3 0h1m3 0h1m3 0h2m1 0h1m1 0h2m-79 1h1m2 0h1m2 0h1m1 0h2m2 0h1m5 0h4m6 0h1m6 0h1m1 0h1m2 0h2m2 0h2m1 0h1m1 0h2m1 0h1m3 0h1m2 0h1m1 0h4m2 0h1m1 0h3m5 0h1m3 0h3m-82 1h1m1 0h1m2 0h1m3 0h1m1 0h1m3 0h3m1 0h1m3 0h1m7 0h1m2 0h1m1 0h1m1 0h1m1 0h3m2 0h1m2 0h2m5 0h1m2 0h1m1 0h1m2 0h2m1 0h6m5 0h3m1 0h1m-79 1h1m2 0h1m3 0h1m1 0h1m2 0h1m1 0h2m4 0h1m6 0h1m1 0h4m1 0h1m2 0h2m4 0h2m1 0h2m3 0h1m3 0h1m2 0h1m1 0h1m1 0h1m1 0h3m2 0h1m2 0h1m1 0h2m1 0h3m1 0h1m-78 1h1m1 0h1m5 0h1m1 0h4m1 0h1m1 0h1m1 0h1m2 0h1m4 0h2m5 0h1m1 0h1m4 0h2m1 0h1m1 0h1m1 0h1m1 0h1m3 0h1m1 0h1m4 0h1m4 0h2m1 0h2m1 0h1m1 0h1m1 0h1m-84 1h1m2 0h1m2 0h3m6 0h1m12 0h2m2 0h5m6 0h1m1 0h1m1 0h1m1 0h1m1 0h1m1 0h2m1 0h3m5 0h2m2 0h2m2 0h1m1 0h3m1 0h4m2 0h1m-84 1h1m9 0h1m4 0h1m2 0h1m2 0h1m5 0h3m5 0h6m2 0h1m4 0h2m4 0h1m1 0h1m1 0h2m1 0h1m1 0h1m3 0h1m3 0h1m7 0h1m1 0h1m-85 1h1m3 0h1m14 0h3m4 0h1m3 0h3m1 0h1m2 0h1m1 0h2m1 0h4m3 0h3m1 0h3m1 0h3m2 0h2m1 0h1m1 0h3m1 0h2m1 0h1m4 0h3m1 0h2m-84 1h1m1 0h1m1 0h1m15 0h1m1 0h1m2 0h2m2 0h4m4 0h1m2 0h1m1 0h3m2 0h2m7 0h3m3 0h7m3 0h1m7 0h1m1 0h1m1 0h1m-84 1h2m1 0h1m15 0h1m3 0h4m3 0h2m1 0h1m2 0h2m1 0h1m1 0h1m1 0h1m5 0h1m2 0h6m1 0h1m3 0h1m1 0h1m1 0h1m2 0h1m1 0h1m5 0h3m3 0h1m-87 1h1m8 0h1m14 0h1m8 0h1m1 0h1m4 0h3m1 0h1m3 0h1m1 0h4m2 0h5m3 0h2m1 0h3m3 0h2m5 0h2m1 0h2m1 0h1m-79 1h1m8 0h1m4 0h1m7 0h3m1 0h2m1 0h1m2 0h2m1 0h7m2 0h1m3 0h2m2 0h1m1 0h2m2 0h1m2 0h1m1 0h1m4 0h2m1 0h1m1 0h1m1 0h1m-81 1h1m13 0h1m3 0h1m3 0h1m4 0h3m4 0h1m3 0h3m1 0h4m1 0h1m1 0h1m1 0h1m2 0h2m1 0h5m1 0h7m3 0h1m1 0h2m4 0h2m-86 1h1m15 0h2m3 0h1m2 0h3m2 0h1m1 0h2m1 0h2m2 0h1m1 0h3m3 0h3m2 0h1m1 0h1m3 0h2m3 0h3m2 0h2m4 0h3m2 0h4m1 0h4m-84 1h1m10 0h1m7 0h1m1 0h3m1 0h1m3 0h1m4 0h4m2 0h2m3 0h1m3 0h1m2 0h1m2 0h1m2 0h4m1 0h3m1 0h2m3 0h2m1 0h1m3 0h1m1 0h2m-82 1h1m1 0h1m8 0h1m3 0h1m4 0h2m1 0h1m4 0h1m4 0h4m2 0h1m2 0h1m1 0h4m1 0h1m1 0h4m5 0h4m1 0h1m1 0h1m2 0h2m1 0h2m2 0h1m1 0h1m1 0h2m-80 1h1m6 0h1m8 0h1m1 0h1m1 0h2m2 0h1m1 0h3m5 0h2m6 0h3m1 0h1m1 0h1m7 0h1m1 0h9m3 0h4m1 0h2m-84 1h1m13 0h1m3 0h1m5 0h1m1 0h2m7 0h4m1 0h2m1 0h2m4 0h1m3 0h3m1 0h2m1 0h1m1 0h1m4 0h1m1 0h4m1 0h1m1 0h1m2 0h1m2 0h1m1 0h1m1 0h1m-77 1h1m4 0h1m9 0h4m1 0h3m1 0h2m1 0h1m5 0h2m2 0h6m4 0h2m2 0h1m2 0h6m1 0h6m1 0h1m1 0h1m1 0h2m-72 1h1m1 0h1m3 0h2m3 0h1m1 0h3m1 0h1m1 0h2m1 0h1m6 0h2m5 0h1m3 0h1m3 0h3m1 0h2m1 0h1m1 0h6m4 0h2m1 0h2m1 0h6m-79 1h1m5 0h1m7 0h1m3 0h1m1 0h4m1 0h2m1 0h1m1 0h2m1 0h4m2 0h4m1 0h1m1 0h1m2 0h3m5 0h6m1 0h1m1 0h2m1 0h2m1 0h2m1 0h1m1 0h1m-86 1h1m19 0h1m3 0h2m3 0h3m1 0h2m4 0h3m6 0h3m1 0h2m1 0h2m1 0h2m3 0h1m1 0h2m1 0h3m2 0h2m1 0h2m1 0h1m1 0h2m1 0h3m-68 1h1m9 0h5m5 0h2m1 0h5m3 0h2m1 0h2m2 0h1m2 0h1m4 0h7m2 0h1m2 0h1m1 0h1m1 0h2m2 0h1m-86 1h1m11 0h1m5 0h2m6 0h1m3 0h2m3 0h1m5 0h2m5 0h1m2 0h4m2 0h7m1 0h1m1 0h2m1 0h1m1 0h3m3 0h1m1 0h1m1 0h3m1 0h1" stroke="#f00a0a" stroke-width="1" fill="none" /></g><path d="M246.3 6.1H348M230.3 94.7H348" stroke="#f00a0a" stroke-width="1.9" filter="url(#sb)"/><text x="227.2" y="10.45" font-size="10" text-anchor="end" font-family="Liberation Sans" fill="#262626" stroke="#262626" stroke-width="0.15" >100</text><text x="227.2" y="55.4" font-size="10" text-anchor="end" font-family="Liberation Sans" fill="#262626" stroke="#262626" stroke-width="0.15" >50</text><text x="227.2" y="100.1" font-size="10" text-anchor="end" font-family="Liberation Sans" fill="#262626" stroke="#262626" stroke-width="0.15" >0</text><text x="230" y="109.0" font-size="10" text-anchor="middle" font-family="Liberation Sans" fill="#262626" stroke="#262626" stroke-width="0.15" >0</text><text x="289.15" y="109.0" font-size="10" text-anchor="middle" font-family="Liberation Sans" fill="#262626" stroke="#262626" stroke-width="0.15" >0.5</text><text x="348" y="109.0" font-size="10" text-anchor="middle" font-family="Liberation Sans" fill="#262626" stroke="#262626" stroke-width="0.15" >1</text><text x="289" y="124" font-size="10" text-anchor="middle" font-family="Liberation Sans" fill="#262626" stroke="#262626" stroke-width="0.15" >q</text><text transform="translate(201,52.45) rotate(-90)" font-size="10.5" font-family="Liberation Sans" fill="#262626">I<tspan font-size="8.2" dy="5.6">i</tspan></text><text x="274.1" y="145.60" font-size="14.2" text-anchor="middle" font-family="Liberation Serif" fill="#262626" textLength="17.2" lengthAdjust="spacingAndGlyphs">(b)</text><rect x="38.4" y="168.7" width="118.10" height="90.60" fill="none" stroke="#a0a0a0" stroke-width="1.15"/><path d="M38.4 218.15000000000003h1.2M156.5 218.15000000000003h-1.2M38.4 176.70000000000005h1.2M156.5 176.70000000000005h-1.2M97.44999999999999 259.3v-1.2M97.44999999999999 168.7v1.2" stroke="#999" stroke-width="0.8" fill="none"/><g transform="translate(39,169) scale(1.2,1.2)"><path d="M84 0.5h1m3 0h1m3 0h1m5 0h1m-19 1h1m1 0h3m3 0h1m1 0h1m-22 1h1m1 0h1m2 0h2m2 0h2m1 0h1m3 0h1m1 0h1m1 0h2m2 0h1m2 0h1m1 0h1m-41 1h1m1 0h6m2 0h1m3 0h1m4 0h1m3 0h3m4 0h4m1 0h2m1 0h1m-53 1h1m5 0h1m1 0h2m7 0h1m1 0h2m2 0h1m1 0h2m1 0h1m2 0h2m1 0h1m3 0h1m4 0h2m1 0h1m4 0h1m1 0h2m-64 1h1m5 0h1m3 0h1m2 0h2m1 0h1m1 0h1m1 0h1m2 0h1m1 0h2m1 0h2m1 0h1m3 0h1m2 0h1m1 0h5m2 0h5m2 0h2m1 0h2m1 0h1m1 0h1m-88 1h37m1 0h1m1 0h2m1 0h12m1 0h9m4 0h4m1 0h3m1 0h2m2 0h2m1 0h1m1 0h1m-88 1h7m1 0h17m1 0h9m1 0h3m2 0h1m1 0h4m2 0h2m1 0h5m1 0h2m1 0h1m1 0h2m2 0h4m1 0h2m1 0h2m3 0h4m1 0h4m-89 1h34m1 0h13m4 0h4m1 0h1m3 0h2m1 0h1m1 0h3m1 0h1m1 0h4m3 0h1m1 0h6m1 0h1m-89 1h20m1 0h17m3 0h4m1 0h1m1 0h2m2 0h1m1 0h3m1 0h1m1 0h5m2 0h1m1 0h6m3 0h1m2 0h1m1 0h6m-89 1h40m1 0h2m1 0h1m1 0h3m1 0h1m1 0h1m1 0h1m1 0h1m1 0h10m2 0h3m2 0h2m2 0h2m2 0h4m1 0h1m-89 1h41m2 0h1m1 0h4m2 0h2m2 0h2m1 0h3m1 0h9m2 0h6m1 0h1m1 0h3m1 0h3m-89 1h21m1 0h10m1 0h11m1 0h4m1 0h7m1 0h7m1 0h9m1 0h10m1 0h2m-89 1h24m1 0h9m1 0h23m1 0h3m1 0h6m1 0h2m1 0h8m1 0h5m1 0h1m-89 1h1m1 0h56m1 0h28m1 0h1m-89 1h3m1 0h20m1 0h5m1 0h41m1 0h5m2 0h9m-89 1h6m1 0h23m1 0h5m1 0h23m1 0h20m1 0h4m1 0h2m-89 1h4m2 0h46m1 0h8m1 0h8m1 0h7m1 0h10m-87 1h1m1 0h3m2 0h4m1 0h3m1 0h24m1 0h6m1 0h10m1 0h5m1 0h15m1 0h5m-88 1h1m1 0h1m2 0h1m1 0h9m1 0h19m1 0h5m1 0h25m1 0h20m-83 1h2m2 0h63m1 0h15m-84 1h2m3 0h4m1 0h16m1 0h30m1 0h24m1 0h1m-89 1h1m4 0h1m1 0h1m5 0h5m1 0h15m1 0h14m1 0h12m1 0h5m1 0h11m1 0h8m-76 1h26m1 0h23m1 0h3m2 0h1m1 0h17m-86 1h1m6 0h1m1 0h1m3 0h2m2 0h1m1 0h16m1 0h7m1 0h17m1 0h4m1 0h7m1 0h5m1 0h4m1 0h1m-77 1h1m3 0h1m3 0h2m1 0h1m1 0h17m1 0h1m1 0h9m1 0h16m1 0h1m1 0h14m-68 1h5m1 0h8m1 0h4m1 0h33m2 0h14m-69 1h19m1 0h12m1 0h1m2 0h15m1 0h17m-74 1h1m1 0h1m6 0h6m1 0h45m1 0h8m1 0h3m-67 1h1m3 0h1m2 0h1m2 0h1m1 0h3m1 0h3m1 0h17m2 0h13m1 0h11m1 0h2m-68 1h2m2 0h1m2 0h3m1 0h28m1 0h4m1 0h15m1 0h1m1 0h5m-64 1h1m1 0h1m1 0h1m1 0h1m2 0h14m1 0h3m2 0h28m1 0h6m-56 1h2m2 0h8m1 0h2m1 0h6m1 0h1m1 0h12m1 0h12m2 0h4m-57 1h2m1 0h3m2 0h14m1 0h17m1 0h5m1 0h9m-53 1h1m1 0h10m1 0h5m1 0h27m1 0h7m-54 1h2m1 0h10m1 0h8m1 0h16m1 0h3m1 0h1m1 0h5m1 0h2m-50 1h1m1 0h4m1 0h1m1 0h41m-55 1h1m2 0h1m3 0h1m1 0h3m1 0h33m1 0h8m-46 1h1m1 0h1m1 0h8m1 0h6m1 0h7m1 0h4m1 0h3m1 0h6m1 0h2m-50 1h1m4 0h2m2 0h32m2 0h1m1 0h2m1 0h2m-47 1h1m1 0h1m1 0h2m1 0h14m1 0h25m-42 1h1m2 0h4m1 0h9m1 0h12m1 0h2m1 0h1m1 0h6m-42 1h2m1 0h1m1 0h3m1 0h7m1 0h3m2 0h6m1 0h2m1 0h5m1 0h4m-39 1h2m1 0h3m1 0h5m1 0h16m1 0h9m-42 1h1m2 0h3m2 0h1m1 0h2m1 0h25m2 0h1m-43 1h1m6 0h1m4 0h3m4 0h3m1 0h3m1 0h11m1 0h3m1 0h1m-28 1h5m1 0h1m1 0h4m3 0h12m-23 1h15m2 0h1m1 0h2m1 0h2m-33 1h1m3 0h1m2 0h2m2 0h3m1 0h18m-23 1h1m3 0h1m2 0h1m1 0h9m1 0h4m-25 1h1m4 0h1m1 0h3m2 0h4m1 0h8m-26 1h1m7 0h1m2 0h8m1 0h3m1 0h2m-15 1h1m1 0h7m1 0h1m1 0h2m-15 1h2m5 0h3m2 0h4m-18 1h1m1 0h1m1 0h5m1 0h1m1 0h6m-16 1h1m3 0h1m2 0h8m-11 1h1m1 0h4m1 0h2m1 0h1m-8 1h3m2 0h2m1 0h1m-5 1h1m1 0h3m-15 1h1m12 0h2m-6 1h1m3 0h2" stroke="#ec1c24" stroke-width="1" fill="none" /></g><path d="M89.4 207.5h1.8v1.8h-1.8zM62.8 194.4h1.8v1.8h-1.8zM92.5 218.3h1.8v1.8h-1.8zM102.7 230.1h1.8v1.8h-1.8zM66.9 195.7h1.8v1.8h-1.8zM81.2 201.8h1.8v1.8h-1.8zM115.9 237.1h1.8v1.8h-1.8zM69.0 208.5h1.8v1.8h-1.8zM53.4 197.8h1.8v1.8h-1.8zM109.4 226.2h1.8v1.8h-1.8zM130.0 236.0h1.8v1.8h-1.8zM106.5 226.8h1.8v1.8h-1.8zM79.1 212.5h1.8v1.8h-1.8zM96.4 214.2h1.8v1.8h-1.8zM75.6 201.0h1.8v1.8h-1.8zM134.1 228.5h1.8v1.8h-1.8zM88.7 206.8h1.8v1.8h-1.8zM120.2 222.5h1.8v1.8h-1.8zM84.6 208.3h1.8v1.8h-1.8zM64.3 196.4h1.8v1.8h-1.8zM75.1 206.3h1.8v1.8h-1.8zM97.6 212.2h1.8v1.8h-1.8zM111.2 245.6h1.8v1.8h-1.8zM78.7 229.4h1.8v1.8h-1.8zM110.3 227.0h1.8v1.8h-1.8zM141.5 232.3h1.8v1.8h-1.8zM133.8 228.7h1.8v1.8h-1.8zM60.6 194.0h1.8v1.8h-1.8zM137.9 239.8h1.8v1.8h-1.8zM75.3 200.5h1.8v1.8h-1.8zM152.5 242.7h1.8v1.8h-1.8zM147.4 245.4h1.8v1.8h-1.8zM124.7 243.8h1.8v1.8h-1.8zM147.2 241.8h1.8v1.8h-1.8zM141.8 230.5h1.8v1.8h-1.8zM147.3 243.3h1.8v1.8h-1.8zM53.9 202.7h1.8v1.8h-1.8zM148.8 254.5h1.8v1.8h-1.8zM116.2 222.9h1.8v1.8h-1.8zM102.0 214.2h1.8v1.8h-1.8zM133.0 231.8h1.8v1.8h-1.8zM100.0 234.7h1.8v1.8h-1.8zM125.4 223.7h1.8v1.8h-1.8zM141.2 240.3h1.8v1.8h-1.8zM99.2 248.0h1.8v1.8h-1.8zM126.5 223.8h1.8v1.8h-1.8zM131.8 239.9h1.8v1.8h-1.8zM90.0 213.2h1.8v1.8h-1.8zM57.2 193.6h1.8v1.8h-1.8zM97.2 213.9h1.8v1.8h-1.8zM80.0 204.1h1.8v1.8h-1.8zM94.0 227.7h1.8v1.8h-1.8zM143.2 241.0h1.8v1.8h-1.8zM100.4 214.1h1.8v1.8h-1.8zM102.8 221.4h1.8v1.8h-1.8zM103.8 233.3h1.8v1.8h-1.8zM120.0 229.9h1.8v1.8h-1.8zM127.5 230.2h1.8v1.8h-1.8zM133.4 240.7h1.8v1.8h-1.8zM143.7 249.3h1.8v1.8h-1.8zM66.9 200.6h1.8v1.8h-1.8zM92.8 207.8h1.8v1.8h-1.8zM78.2 212.1h1.8v1.8h-1.8zM155.2 242.5h1.8v1.8h-1.8zM139.5 231.9h1.8v1.8h-1.8zM70.6 202.2h1.8v1.8h-1.8zM61.5 192.3h1.8v1.8h-1.8zM79.0 212.3h1.8v1.8h-1.8zM74.8 199.3h1.8v1.8h-1.8zM148.4 240.5h1.8v1.8h-1.8zM140.6 241.4h1.8v1.8h-1.8zM60.0 194.2h1.8v1.8h-1.8zM130.8 240.7h1.8v1.8h-1.8zM131.7 240.4h1.8v1.8h-1.8zM130.2 229.5h1.8v1.8h-1.8zM108.5 236.3h1.8v1.8h-1.8zM132.3 228.2h1.8v1.8h-1.8zM86.8 210.2h1.8v1.8h-1.8zM136.6 233.3h1.8v1.8h-1.8zM118.3 244.5h1.8v1.8h-1.8zM108.7 235.4h1.8v1.8h-1.8zM62.1 194.6h1.8v1.8h-1.8zM117.8 220.5h1.8v1.8h-1.8zM53.3 190.2h1.8v1.8h-1.8zM52.0 209.1h1.8v1.8h-1.8zM147.7 244.7h1.8v1.8h-1.8zM84.0 205.8h1.8v1.8h-1.8zM91.9 226.5h1.8v1.8h-1.8zM148.5 235.9h1.8v1.8h-1.8zM58.3 199.8h1.8v1.8h-1.8zM91.1 212.5h1.8v1.8h-1.8zM96.6 214.9h1.8v1.8h-1.8zM151.3 248.6h1.8v1.8h-1.8zM133.9 245.7h1.8v1.8h-1.8zM152.7 248.6h1.8v1.8h-1.8zM140.5 236.5h1.8v1.8h-1.8zM136.4 229.8h1.8v1.8h-1.8zM77.0 209.6h1.8v1.8h-1.8zM74.5 203.7h1.8v1.8h-1.8zM152.3 251.2h1.8v1.8h-1.8zM131.5 236.9h1.8v1.8h-1.8zM97.4 227.8h1.8v1.8h-1.8zM144.6 249.0h1.8v1.8h-1.8zM75.5 209.6h1.8v1.8h-1.8zM140.6 237.8h1.8v1.8h-1.8zM78.0 201.5h1.8v1.8h-1.8zM83.5 202.5h1.8v1.8h-1.8zM137.1 245.2h1.8v1.8h-1.8zM129.9 238.9h1.8v1.8h-1.8zM114.5 219.7h1.8v1.8h-1.8zM122.8 223.0h1.8v1.8h-1.8zM112.1 224.5h1.8v1.8h-1.8zM97.3 212.1h1.8v1.8h-1.8zM71.9 199.4h1.8v1.8h-1.8zM119.0 238.7h1.8v1.8h-1.8zM103.0 215.2h1.8v1.8h-1.8zM115.1 232.1h1.8v1.8h-1.8zM104.4 240.3h1.8v1.8h-1.8zM146.3 233.2h1.8v1.8h-1.8zM152.6 244.2h1.8v1.8h-1.8zM66.7 197.2h1.8v1.8h-1.8zM90.9 229.6h1.8v1.8h-1.8zM145.4 246.9h1.8v1.8h-1.8zM144.0 240.8h1.8v1.8h-1.8zM71.9 198.9h1.8v1.8h-1.8zM122.0 241.1h1.8v1.8h-1.8zM116.1 224.5h1.8v1.8h-1.8zM107.7 224.2h1.8v1.8h-1.8zM143.5 232.4h1.8v1.8h-1.8zM150.7 243.7h1.8v1.8h-1.8zM79.1 220.0h1.8v1.8h-1.8zM84.5 209.3h1.8v1.8h-1.8zM150.3 245.5h1.8v1.8h-1.8zM60.4 191.9h1.8v1.8h-1.8zM82.3 204.5h1.8v1.8h-1.8zM143.0 252.5h1.8v1.8h-1.8zM130.1 226.4h1.8v1.8h-1.8zM113.4 232.6h1.8v1.8h-1.8zM138.5 252.2h1.8v1.8h-1.8zM73.2 206.2h1.8v1.8h-1.8zM119.2 226.6h1.8v1.8h-1.8zM142.7 240.1h1.8v1.8h-1.8zM126.1 238.3h1.8v1.8h-1.8zM63.7 197.1h1.8v1.8h-1.8zM79.5 200.5h1.8v1.8h-1.8zM99.9 223.8h1.8v1.8h-1.8zM131.6 235.8h1.8v1.8h-1.8zM131.0 233.7h1.8v1.8h-1.8zM96.8 221.1h1.8v1.8h-1.8zM72.4 210.3h1.8v1.8h-1.8zM87.6 216.9h1.8v1.8h-1.8zM79.9 203.4h1.8v1.8h-1.8zM139.3 229.9h1.8v1.8h-1.8zM146.3 235.9h1.8v1.8h-1.8zM97.1 213.9h1.8v1.8h-1.8zM53.4 190.2h1.8v1.8h-1.8zM138.9 231.1h1.8v1.8h-1.8zM140.5 246.6h1.8v1.8h-1.8zM81.1 217.1h1.8v1.8h-1.8zM69.2 200.8h1.8v1.8h-1.8zM121.3 235.4h1.8v1.8h-1.8zM51.7 193.1h1.8v1.8h-1.8zM135.6 229.7h1.8v1.8h-1.8zM130.6 234.1h1.8v1.8h-1.8zM135.9 231.3h1.8v1.8h-1.8zM59.5 202.7h1.8v1.8h-1.8zM151.9 241.1h1.8v1.8h-1.8zM74.8 209.0h1.8v1.8h-1.8zM70.1 209.2h1.8v1.8h-1.8zM54.1 190.0h1.8v1.8h-1.8zM119.0 230.5h1.8v1.8h-1.8zM61.2 195.0h1.8v1.8h-1.8zM109.5 220.3h1.8v1.8h-1.8zM108.0 217.8h1.8v1.8h-1.8zM141.9 242.7h1.8v1.8h-1.8zM95.4 223.0h1.8v1.8h-1.8zM59.4 197.1h1.8v1.8h-1.8zM59.8 210.7h1.8v1.8h-1.8zM105.4 231.4h1.8v1.8h-1.8zM123.6 222.7h1.8v1.8h-1.8zM144.8 240.3h1.8v1.8h-1.8zM77.5 199.9h1.8v1.8h-1.8zM115.2 220.4h1.8v1.8h-1.8zM129.4 229.3h1.8v1.8h-1.8zM104.8 215.9h1.8v1.8h-1.8zM100.7 223.9h1.8v1.8h-1.8zM82.8 217.1h1.8v1.8h-1.8zM85.5 204.9h1.8v1.8h-1.8zM98.5 222.4h1.8v1.8h-1.8zM95.7 225.3h1.8v1.8h-1.8zM144.7 239.1h1.8v1.8h-1.8zM97.9 211.1h1.8v1.8h-1.8zM94.8 217.3h1.8v1.8h-1.8zM133.4 228.1h1.8v1.8h-1.8zM103.8 220.8h1.8v1.8h-1.8zM138.8 229.1h1.8v1.8h-1.8zM145.8 250.2h1.8v1.8h-1.8zM51.4 189.1h1.8v1.8h-1.8zM97.9 221.6h1.8v1.8h-1.8zM51.2 193.9h1.8v1.8h-1.8zM54.1 191.9h1.8v1.8h-1.8zM112.7 232.7h1.8v1.8h-1.8zM142.1 231.5h1.8v1.8h-1.8zM121.2 229.6h1.8v1.8h-1.8zM128.6 226.0h1.8v1.8h-1.8zM139.6 242.3h1.8v1.8h-1.8zM57.4 193.1h1.8v1.8h-1.8zM131.5 232.0h1.8v1.8h-1.8zM141.1 250.1h1.8v1.8h-1.8zM155.6 243.9h1.8v1.8h-1.8zM115.7 226.8h1.8v1.8h-1.8zM114.5 219.4h1.8v1.8h-1.8zM54.1 196.2h1.8v1.8h-1.8zM111.5 223.9h1.8v1.8h-1.8zM79.5 205.0h1.8v1.8h-1.8zM125.0 226.3h1.8v1.8h-1.8zM150.6 249.6h1.8v1.8h-1.8zM148.1 251.6h1.8v1.8h-1.8zM154.6 245.0h1.8v1.8h-1.8zM154.1 246.0h1.8v1.8h-1.8zM127.0 225.7h1.8v1.8h-1.8zM70.7 198.1h1.8v1.8h-1.8zM87.7 219.3h1.8v1.8h-1.8zM112.3 230.8h1.8v1.8h-1.8zM86.7 206.6h1.8v1.8h-1.8zM102.2 218.8h1.8v1.8h-1.8zM69.1 201.1h1.8v1.8h-1.8zM125.5 230.4h1.8v1.8h-1.8zM148.5 235.3h1.8v1.8h-1.8zM92.4 215.0h1.8v1.8h-1.8zM102.1 215.1h1.8v1.8h-1.8z" fill="#ec1c24" filter="url(#sb)"/><rect x="38.6" y="257.9" width="13" height="1.6" fill="#ec1c24"/><text x="35.3" y="180.4" font-size="10" text-anchor="end" font-family="Liberation Sans" fill="#262626" stroke="#262626" stroke-width="0.15" >100</text><text x="35.3" y="222.3" font-size="10" text-anchor="end" font-family="Liberation Sans" fill="#262626" stroke="#262626" stroke-width="0.15" >50</text><text x="35.3" y="264.0" font-size="10" text-anchor="end" font-family="Liberation Sans" fill="#262626" stroke="#262626" stroke-width="0.15" >0</text><text x="38.8" y="273.1" font-size="10" text-anchor="middle" font-family="Liberation Sans" fill="#262626" stroke="#262626" stroke-width="0.15" >0</text><text x="97.8" y="273.1" font-size="10" text-anchor="middle" font-family="Liberation Sans" fill="#262626" stroke="#262626" stroke-width="0.15" >0.5</text><text x="156.6" y="273.1" font-size="10" text-anchor="middle" font-family="Liberation Sans" fill="#262626" stroke="#262626" stroke-width="0.15" >1</text><text x="97.5" y="288" font-size="10" text-anchor="middle" font-family="Liberation Sans" fill="#262626" stroke="#262626" stroke-width="0.15" >q</text><text transform="translate(9.3,216.45) rotate(-90)" font-size="10.5" font-family="Liberation Sans" fill="#262626">I<tspan font-size="8.2" dy="5.6">i</tspan></text><text x="82.75" y="309.60" font-size="14.2" text-anchor="middle" font-family="Liberation Serif" fill="#262626" textLength="17.2" lengthAdjust="spacingAndGlyphs">(c)</text><rect x="230.3" y="168.5" width="118.00" height="90.80" fill="none" stroke="#a0a0a0" stroke-width="1.15"/><path d="M230.3 214.25h1.2M348.3 214.25h-1.2M289.3 259.3v-1.2M289.3 168.5v1.2" stroke="#999" stroke-width="0.8" fill="none"/><g transform="translate(231,171) scale(1.18,1.18)"><path d="M13 0.5h2m1 0h2m1 0h2m1 0h1m3 0h1m2 0h1m1 0h1m3 0h1m5 0h1m6 0h1m1 0h1m7 0h1m5 0h1m1 0h1m11 0h1m12 0h1m5 0h1m-84 1h3m1 0h1m2 0h1m2 0h2m5 0h1m8 0h1m6 0h1m1 0h2m2 0h3m9 0h1m11 0h1m12 0h1m5 0h1m-83 1h2m2 0h2m14 0h1m1 0h1m1 0h1m1 0h3m1 0h1m1 0h3m2 0h2m1 0h1m3 0h1m6 0h1m10 0h1m2 0h1m10 0h1m4 0h1m-82 1h2m1 0h1m17 0h1m2 0h1m1 0h1m1 0h1m4 0h1m3 0h2m2 0h1m21 0h1m20 0h1m-82 1h2m4 0h1m2 0h1m1 0h2m1 0h1m8 0h1m4 0h2m2 0h2m1 0h2m4 0h1m2 0h1m2 0h1m27 0h1m-79 1h3m5 0h1m1 0h1m2 0h1m2 0h1m2 0h2m3 0h4m3 0h2m5 0h1m5 0h3m4 0h1m4 0h1m-55 1h1m1 0h1m3 0h4m1 0h1m4 0h1m1 0h2m4 0h2m2 0h1m5 0h1m1 0h2m5 0h3m3 0h1m5 0h2m-58 1h2m4 0h1m1 0h1m1 0h2m6 0h2m4 0h2m12 0h2m4 0h1m38 0h1m-85 1h4m2 0h1m4 0h1m1 0h1m2 0h1m2 0h1m21 0h1m2 0h1m3 0h1m4 0h1m15 0h1m8 0h1m-80 1h1m1 0h2m3 0h1m4 0h2m1 0h2m6 0h1m1 0h1m4 0h1m2 0h2m1 0h1m2 0h1m1 0h1m1 0h1m10 0h1m11 0h1m7 0h1m1 0h1m1 0h1m-78 1h5m1 0h2m1 0h2m1 0h4m1 0h1m1 0h1m8 0h1m3 0h1m1 0h1m2 0h2m4 0h1m7 0h3m14 0h1m6 0h2m-77 1h5m1 0h4m1 0h1m4 0h2m4 0h2m3 0h2m5 0h1m2 0h1m8 0h1m2 0h1m1 0h1m1 0h1m2 0h1m17 0h1m-76 1h1m2 0h1m1 0h2m1 0h1m5 0h2m2 0h1m7 0h2m5 0h2m1 0h1m1 0h1m3 0h2m8 0h1m3 0h1m1 0h1m4 0h1m1 0h1m8 0h1m5 0h1m-80 1h1m7 0h1m1 0h1m1 0h3m1 0h2m5 0h1m2 0h2m1 0h1m1 0h2m3 0h1m8 0h1m12 0h1m4 0h1m11 0h1m2 0h1m-77 1h1m8 0h1m3 0h2m6 0h2m3 0h2m1 0h1m3 0h2m12 0h1m17 0h3m4 0h1m2 0h1m-73 1h1m1 0h3m1 0h1m2 0h2m6 0h1m1 0h2m4 0h1m11 0h1m2 0h1m16 0h1m5 0h1m13 0h1m-84 1h1m11 0h1m11 0h1m2 0h1m1 0h2m1 0h1m4 0h1m7 0h1m22 0h2m4 0h1m8 0h1m-80 1h4m5 0h1m1 0h8m2 0h1m1 0h1m5 0h1m6 0h1m3 0h1m4 0h1m9 0h1m14 0h1m-74 1h1m4 0h1m1 0h5m1 0h1m2 0h1m2 0h1m1 0h3m3 0h2m2 0h1m1 0h1m23 0h1m-54 1h2m1 0h2m1 0h1m3 0h1m2 0h1m1 0h1m3 0h1m4 0h1m10 0h3m2 0h1m2 0h2m7 0h1m2 0h1m7 0h2m4 0h1m-75 1h3m5 0h4m6 0h1m2 0h1m1 0h1m2 0h1m6 0h1m1 0h2m4 0h1m6 0h1m3 0h2m6 0h1m6 0h1m4 0h1m6 0h1m5 0h2m-87 1h2m1 0h3m4 0h1m1 0h1m2 0h3m10 0h1m4 0h2m3 0h1m1 0h3m2 0h2m2 0h1m2 0h2m3 0h2m1 0h1m4 0h1m15 0h1m1 0h1m2 0h1m-86 1h1m2 0h1m3 0h1m2 0h1m3 0h2m2 0h1m1 0h1m1 0h1m1 0h1m1 0h1m1 0h1m4 0h1m6 0h1m7 0h1m1 0h1m2 0h1m2 0h1m1 0h1m1 0h1m9 0h1m1 0h1m8 0h2m-83 1h3m1 0h1m9 0h2m1 0h1m1 0h2m1 0h1m3 0h1m6 0h1m2 0h1m2 0h1m16 0h2m1 0h1m4 0h1m5 0h1m2 0h1m7 0h1m-79 1h1m1 0h1m6 0h1m3 0h1m1 0h6m1 0h4m3 0h1m4 0h1m3 0h1m1 0h1m8 0h2m16 0h1m9 0h1m4 0h1m-82 1h2m2 0h1m2 0h1m10 0h1m2 0h2m2 0h1m4 0h1m6 0h1m1 0h1m4 0h1m13 0h2m2 0h1m6 0h1m11 0h1m-86 1h1m1 0h1m2 0h1m1 0h3m3 0h1m2 0h5m1 0h4m9 0h2m14 0h1m17 0h1m1 0h1m6 0h1m-79 1h2m4 0h1m2 0h1m6 0h1m4 0h1m2 0h1m4 0h1m2 0h1m1 0h1m2 0h1m2 0h1m3 0h2m6 0h2m1 0h1m1 0h1m4 0h1m2 0h1m3 0h1m2 0h1m1 0h1m4 0h1m-80 1h2m1 0h1m1 0h1m3 0h1m1 0h2m3 0h3m1 0h1m2 0h1m2 0h1m2 0h2m2 0h2m2 0h2m14 0h1m2 0h2m5 0h1m-63 1h1m3 0h1m5 0h2m1 0h1m2 0h1m2 0h1m1 0h1m1 0h1m1 0h1m4 0h1m7 0h1m3 0h3m3 0h3m8 0h1m2 0h2m3 0h1m2 0h1m3 0h1m-74 1h1m5 0h1m1 0h1m2 0h1m7 0h1m1 0h1m5 0h2m4 0h1m5 0h1m1 0h1m2 0h1m13 0h3m3 0h2m12 0h1m1 0h1m-83 1h1m1 0h1m1 0h1m12 0h1m2 0h6m3 0h1m6 0h1m1 0h1m2 0h1m3 0h1m2 0h3m1 0h1m8 0h3m2 0h1m14 0h1m-81 1h1m10 0h1m2 0h1m2 0h3m3 0h1m1 0h1m1 0h1m2 0h1m2 0h1m2 0h1m6 0h1m2 0h1m5 0h1m1 0h3m2 0h2m6 0h1m4 0h1m6 0h2m-83 1h2m10 0h3m1 0h1m1 0h1m3 0h1m5 0h1m2 0h1m2 0h3m1 0h2m4 0h1m2 0h2m3 0h1m3 0h3m18 0h1m3 0h4m-82 1h1m8 0h2m1 0h1m1 0h2m7 0h1m2 0h1m1 0h1m1 0h1m1 0h2m2 0h1m5 0h2m6 0h1m1 0h1m2 0h1m5 0h1m2 0h1m3 0h1m1 0h1m1 0h1m-74 1h1m7 0h1m1 0h1m1 0h1m4 0h1m2 0h1m5 0h3m1 0h1m2 0h1m3 0h1m4 0h2m8 0h3m4 0h1m2 0h1m3 0h1m1 0h1m3 0h2m1 0h1m3 0h1m-81 1h5m5 0h3m1 0h2m1 0h2m1 0h1m4 0h1m2 0h4m10 0h1m13 0h1m5 0h1m7 0h3m1 0h1m2 0h1m1 0h1m1 0h2m-83 1h2m2 0h1m6 0h4m3 0h1m6 0h1m3 0h1m5 0h1m3 0h1m1 0h2m1 0h2m4 0h1m5 0h1m2 0h1m2 0h1m3 0h1m2 0h1m3 0h1m2 0h1m-78 1h1m1 0h1m10 0h2m11 0h1m1 0h1m4 0h1m4 0h1m4 0h3m2 0h4m1 0h1m2 0h1m3 0h1m5 0h1m11 0h6m-83 1h4m4 0h1m5 0h1m4 0h1m2 0h1m1 0h1m2 0h1m2 0h2m4 0h1m1 0h1m1 0h3m3 0h1m1 0h6m1 0h1m2 0h1m7 0h1m5 0h1m5 0h1m2 0h1m-80 1h1m4 0h1m2 0h1m2 0h4m3 0h2m4 0h3m2 0h3m1 0h1m1 0h1m1 0h4m1 0h1m1 0h5m1 0h1m5 0h1m1 0h1m2 0h1m7 0h1m1 0h2m2 0h1m4 0h1m-84 1h1m2 0h3m4 0h1m7 0h1m2 0h1m1 0h1m7 0h2m7 0h3m3 0h1m1 0h3m1 0h2m2 0h1m5 0h1m1 0h1m13 0h1m4 0h1m-83 1h3m6 0h1m2 0h1m2 0h5m1 0h1m4 0h1m2 0h1m3 0h1m2 0h4m2 0h1m1 0h1m2 0h4m1 0h1m2 0h2m5 0h1m1 0h1m10 0h1m6 0h1m-81 1h1m2 0h1m2 0h1m2 0h1m4 0h3m7 0h2m8 0h1m3 0h1m2 0h1m1 0h2m1 0h3m2 0h5m2 0h1m1 0h2m1 0h1m3 0h1m8 0h2m1 0h1m-82 1h1m5 0h2m6 0h5m3 0h3m7 0h1m1 0h4m2 0h3m2 0h2m1 0h2m1 0h4m6 0h2m3 0h4m2 0h1m1 0h1m3 0h1m2 0h2m-82 1h2m4 0h1m1 0h2m1 0h3m1 0h2m4 0h1m1 0h1m4 0h1m1 0h1m6 0h1m3 0h1m2 0h4m3 0h3m5 0h1m2 0h1m3 0h1m4 0h1m2 0h1m2 0h3m2 0h1m-81 1h1m3 0h3m3 0h1m1 0h1m1 0h1m2 0h6m4 0h1m5 0h6m1 0h1m11 0h1m2 0h1m2 0h1m1 0h2m1 0h2m2 0h3m3 0h1m1 0h1m2 0h1m2 0h1m-84 1h2m2 0h1m1 0h1m2 0h1m1 0h2m7 0h1m3 0h1m3 0h1m5 0h3m1 0h1m6 0h2m5 0h1m4 0h2m1 0h1m1 0h2m1 0h3m8 0h3m2 0h1m2 0h1m-87 1h1m1 0h1m6 0h2m1 0h1m1 0h3m3 0h3m3 0h1m1 0h2m6 0h1m1 0h1m5 0h2m5 0h1m4 0h2m1 0h2m7 0h5m1 0h1m1 0h2m1 0h3m1 0h1m1 0h1m-86 1h2m3 0h1m2 0h1m1 0h2m2 0h1m1 0h1m3 0h1m1 0h1m5 0h1m2 0h1m1 0h1m1 0h1m1 0h1m2 0h1m2 0h1m2 0h2m9 0h3m1 0h1m4 0h2m4 0h2m1 0h1m1 0h4m1 0h1m-83 1h1m1 0h1m4 0h1m1 0h1m5 0h1m1 0h1m2 0h3m3 0h2m1 0h1m2 0h2m11 0h1m1 0h2m1 0h1m1 0h1m4 0h1m1 0h2m9 0h1m2 0h2m3 0h2m2 0h1m3 0h1m-87 1h1m1 0h3m1 0h2m5 0h3m1 0h2m2 0h1m1 0h2m1 0h1m1 0h3m2 0h1m6 0h2m3 0h1m3 0h1m5 0h1m2 0h1m1 0h1m1 0h4m3 0h1m3 0h1m3 0h1m1 0h1m1 0h1m4 0h1m-82 1h1m1 0h1m2 0h1m1 0h1m1 0h1m1 0h1m2 0h1m5 0h1m9 0h1m1 0h2m6 0h2m1 0h1m1 0h1m4 0h3m2 0h2m1 0h1m2 0h2m1 0h1m2 0h1m1 0h1m5 0h1m1 0h1m3 0h1m-87 1h3m6 0h1m1 0h1m2 0h1m1 0h1m2 0h1m1 0h2m2 0h1m9 0h1m1 0h1m5 0h4m5 0h3m1 0h2m1 0h1m1 0h4m3 0h1m5 0h2m4 0h4m1 0h1m-84 1h1m3 0h1m4 0h2m2 0h2m2 0h2m2 0h5m1 0h2m3 0h1m1 0h1m1 0h1m1 0h1m1 0h1m4 0h1m2 0h6m5 0h4m3 0h2m4 0h1m1 0h4m2 0h2m-83 1h1m2 0h2m9 0h1m2 0h1m2 0h2m3 0h1m1 0h1m1 0h1m2 0h1m2 0h1m2 0h3m1 0h1m1 0h1m2 0h3m2 0h1m2 0h1m1 0h1m2 0h1m2 0h2m2 0h1m1 0h1m1 0h2m2 0h2m3 0h2m1 0h1m-84 1h3m6 0h5m9 0h1m2 0h2m1 0h2m3 0h1m2 0h1m1 0h1m1 0h1m6 0h1m3 0h1m3 0h1m3 0h2m2 0h1m10 0h2m2 0h3m-83 1h1m1 0h1m1 0h1m4 0h1m3 0h2m7 0h1m1 0h2m3 0h1m2 0h1m2 0h1m2 0h1m4 0h1m5 0h2m1 0h1m2 0h1m2 0h1m1 0h1m1 0h1m4 0h1m1 0h4m2 0h2m3 0h4m1 0h2m-85 1h1m5 0h1m1 0h2m2 0h2m7 0h2m6 0h1m3 0h2m2 0h1m8 0h6m9 0h5m7 0h1m3 0h1m1 0h4m1 0h1m-79 1h1m4 0h1m1 0h2m8 0h1m4 0h1m5 0h1m11 0h3m2 0h1m3 0h1m1 0h7m2 0h1m1 0h3m1 0h2m6 0h5m-86 1h1m2 0h1m3 0h1m1 0h2m2 0h1m3 0h1m3 0h3m1 0h1m3 0h3m1 0h2m1 0h1m4 0h1m4 0h2m1 0h1m1 0h3m3 0h1m1 0h5m1 0h1m3 0h2m2 0h1m5 0h1m1 0h1m2 0h2m-85 1h1m6 0h2m4 0h1m10 0h2m1 0h1m5 0h2m1 0h1m4 0h2m1 0h1m1 0h1m1 0h2m2 0h3m3 0h1m3 0h2m3 0h2m3 0h2m1 0h1m2 0h2m3 0h1m-86 1h1m4 0h1m2 0h3m5 0h1m2 0h2m1 0h1m3 0h1m2 0h1m2 0h4m1 0h1m5 0h3m3 0h3m5 0h1m1 0h7m3 0h1m1 0h2m1 0h1m1 0h1m3 0h2m3 0h2m-86 1h1m7 0h1m1 0h1m8 0h2m5 0h1m1 0h1m4 0h1m6 0h2m2 0h1m1 0h1m2 0h2m1 0h1m2 0h2m2 0h1m1 0h1m1 0h3m3 0h2m3 0h2m3 0h1m1 0h1m1 0h1m1 0h1m-87 1h1m7 0h1m2 0h1m5 0h1m1 0h2m4 0h1m1 0h1m2 0h2m2 0h2m3 0h1m1 0h2m1 0h2m3 0h2m1 0h2m1 0h2m1 0h2m2 0h4m3 0h1m1 0h1m3 0h9m2 0h1m-86 1h3m11 0h1m3 0h1m2 0h1m1 0h2m2 0h3m5 0h2m1 0h4m1 0h1m2 0h1m1 0h1m2 0h1m1 0h1m2 0h1m1 0h1m5 0h3m1 0h2m1 0h1m1 0h1m2 0h1m1 0h8m-86 1h2m7 0h1m3 0h1m2 0h1m3 0h2m2 0h1m1 0h4m4 0h6m1 0h1m3 0h1m2 0h1m1 0h1m1 0h4m4 0h1m3 0h4m1 0h1m1 0h4m3 0h4m1 0h2m-83 1h1m7 0h1m1 0h3m1 0h1m2 0h7m3 0h1m2 0h1m1 0h3m3 0h1m1 0h2m3 0h1m1 0h3m1 0h1m2 0h1m2 0h2m4 0h1m1 0h2m1 0h1m3 0h7m1 0h1m1 0h1m-85 1h1m5 0h2m2 0h6m4 0h1m2 0h1m1 0h3m5 0h1m1 0h2m1 0h2m2 0h2m2 0h1m4 0h1m3 0h2m1 0h1m4 0h5m1 0h2m2 0h1m1 0h1m1 0h3m1 0h5m-87 1h1m1 0h1m1 0h1m2 0h1m5 0h1m6 0h2m1 0h3m1 0h2m4 0h8m2 0h1m1 0h2m1 0h1m3 0h1m1 0h6m1 0h1m4 0h3m1 0h3m1 0h2m1 0h3m2 0h2m1 0h1m-86 1h2m1 0h1m4 0h2m2 0h1m2 0h1m2 0h1m2 0h1m2 0h1m2 0h2m2 0h1m1 0h4m2 0h2m2 0h2m1 0h4m1 0h1m1 0h1m1 0h3m1 0h5m2 0h1m2 0h6m1 0h1m1 0h3m4 0h2m-86 1h1m3 0h1m9 0h1m3 0h2m4 0h2m4 0h4m2 0h9m2 0h3m1 0h1m1 0h1m4 0h9m1 0h6m1 0h2m1 0h6m1 0h1m-86 1h2m3 0h1m6 0h1m2 0h4m3 0h1m2 0h4m3 0h6m2 0h2m1 0h1m1 0h1m2 0h1m1 0h1m1 0h2m2 0h1m1 0h6m1 0h5m1 0h1m1 0h1m2 0h9m-84 1h1m4 0h1m1 0h1m7 0h1m7 0h3m6 0h1m2 0h1m3 0h1m1 0h1m3 0h2m2 0h2m4 0h1m2 0h3m1 0h1m3 0h1m1 0h4m1 0h1m1 0h2m3 0h1m1 0h3" stroke="#f00a0a" stroke-width="1" fill="none" /></g><path d="M246.8 170.1H348M230.3 258.7H348" stroke="#f00a0a" stroke-width="1.9" filter="url(#sb)"/><text x="227.2" y="174.95" font-size="10" text-anchor="end" font-family="Liberation Sans" fill="#262626" stroke="#262626" stroke-width="0.15" >100</text><text x="227.2" y="219.6" font-size="10" text-anchor="end" font-family="Liberation Sans" fill="#262626" stroke="#262626" stroke-width="0.15" >50</text><text x="227.2" y="264.2" font-size="10" text-anchor="end" font-family="Liberation Sans" fill="#262626" stroke="#262626" stroke-width="0.15" >0</text><text x="230" y="273.1" font-size="10" text-anchor="middle" font-family="Liberation Sans" fill="#262626" stroke="#262626" stroke-width="0.15" >0</text><text x="289.15" y="273.1" font-size="10" text-anchor="middle" font-family="Liberation Sans" fill="#262626" stroke="#262626" stroke-width="0.15" >0.5</text><text x="348" y="273.1" font-size="10" text-anchor="middle" font-family="Liberation Sans" fill="#262626" stroke="#262626" stroke-width="0.15" >1</text><text x="289" y="288" font-size="10" text-anchor="middle" font-family="Liberation Sans" fill="#262626" stroke="#262626" stroke-width="0.15" >q</text><text transform="translate(201,216.45) rotate(-90)" font-size="10.5" font-family="Liberation Sans" fill="#262626">I<tspan font-size="8.2" dy="5.6">i</tspan></text><text x="274.2" y="309.60" font-size="14.2" text-anchor="middle" font-family="Liberation Serif" fill="#262626" textLength="17.2" lengthAdjust="spacingAndGlyphs">(d)</text></g></svg></body></html>
